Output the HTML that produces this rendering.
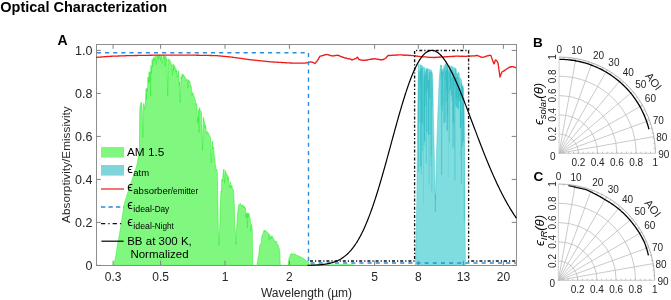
<!DOCTYPE html><html><head><meta charset="utf-8"><style>html,body{margin:0;padding:0;background:#fff;}svg{display:block;will-change:transform;}</style></head><body>
<svg width="671" height="300" viewBox="0 0 671 300" font-family="Liberation Sans, sans-serif">
<rect width="671" height="300" fill="#fff"/>
<text x="0.3" y="11.7" font-size="14.5" font-weight="bold" fill="#000">Optical Characterization</text>
<text x="57.5" y="44.5" font-size="14" font-weight="bold" fill="#000">A</text>
<path d="M113.6,265.4 L113.60,265.40 L113.75,264.83 L113.90,264.27 L114.05,263.70 L114.20,263.13 L114.35,262.57 L114.50,262.00 L114.65,261.30 L114.80,260.60 L114.95,259.90 L115.10,259.20 L115.25,258.50 L115.40,257.80 L115.55,257.10 L115.70,256.40 L115.85,255.70 L116.00,255.00 L116.15,253.93 L116.30,252.86 L116.45,251.79 L116.60,250.71 L116.75,249.64 L116.90,248.57 L117.05,247.50 L117.20,246.43 L117.35,245.36 L117.50,244.50 L117.65,243.75 L117.80,243.00 L117.95,242.25 L118.10,241.50 L118.25,240.75 L118.40,240.00 L118.55,239.25 L118.70,238.50 L118.85,237.75 L119.00,237.00 L119.15,236.25 L119.30,235.50 L119.45,234.69 L119.60,233.75 L119.75,232.81 L119.90,231.87 L120.05,230.94 L120.20,230.00 L120.35,229.06 L120.50,228.12 L120.65,227.19 L120.80,226.25 L120.95,225.31 L121.10,224.37 L121.25,223.44 L121.40,222.50 L121.55,221.56 L121.70,220.62 L121.85,219.69 L122.00,218.75 L122.15,217.81 L122.30,216.87 L122.45,215.94 L122.60,215.00 L122.75,213.93 L122.90,212.86 L123.05,211.79 L123.20,210.71 L123.35,209.64 L123.50,208.57 L123.65,207.50 L123.80,206.43 L123.95,205.36 L124.10,204.67 L124.25,204.17 L124.40,203.67 L124.55,203.17 L124.70,202.67 L124.85,202.17 L125.00,201.67 L125.15,201.17 L125.30,200.67 L125.45,200.17 L125.60,199.67 L125.75,199.17 L125.90,198.67 L126.05,198.17 L126.20,197.67 L126.35,197.17 L126.50,196.67 L126.65,196.17 L126.80,195.67 L126.95,195.17 L127.10,194.70 L127.25,194.25 L127.40,193.80 L127.55,193.35 L127.70,192.90 L127.85,192.45 L128.00,192.00 L128.15,191.55 L128.30,191.10 L128.45,190.65 L128.60,190.20 L128.75,189.75 L128.90,189.30 L129.05,188.85 L129.20,188.40 L129.35,187.95 L129.50,187.50 L129.65,187.05 L129.80,186.60 L129.95,186.15 L130.10,185.70 L130.25,185.25 L130.40,184.80 L130.55,184.35 L130.70,183.90 L130.85,183.45 L131.00,183.00 L131.15,182.55 L131.30,182.10 L131.45,181.65 L131.60,181.20 L131.75,180.75 L131.90,180.30 L132.05,179.85 L132.20,179.40 L132.35,178.95 L132.50,178.50 L132.65,178.05 L132.80,177.60 L132.95,177.15 L133.10,176.70 L133.25,176.25 L133.40,175.80 L133.55,175.35 L133.70,174.90 L133.85,174.45 L134.00,174.00 L134.15,173.55 L134.30,173.10 L134.45,172.65 L134.60,172.20 L134.75,171.75 L134.90,171.30 L135.05,170.85 L135.20,170.40 L135.35,169.95 L135.50,169.50 L135.65,169.05 L135.80,168.60 L135.95,168.15 L136.10,167.70 L136.25,167.25 L136.40,166.80 L136.55,166.35 L136.70,165.90 L136.85,165.45 L137.00,165.00 L137.15,164.06 L137.30,163.12 L137.45,162.19 L137.60,161.25 L137.75,160.31 L137.90,159.37 L138.05,158.44 L138.20,157.50 L138.35,156.56 L138.50,155.62 L138.65,154.69 L138.80,153.75 L138.95,152.81 L139.10,151.87 L139.25,150.94 L139.40,150.00 L139.55,135.00 L139.70,120.00 L139.85,109.57 L140.00,108.29 L140.15,107.00 L140.30,105.71 L140.45,104.43 L140.60,103.80 L140.75,103.50 L140.90,103.20 L141.05,102.90 L141.20,102.60 L141.35,102.30 L141.50,103.38 L141.65,104.78 L141.80,106.19 L141.95,105.89 L142.10,108.75 L142.25,115.45 L142.40,122.16 L142.55,128.87 L142.70,135.57 L142.85,137.36 L143.00,130.55 L143.15,123.74 L143.30,116.94 L143.45,110.13 L143.60,103.80 L143.75,103.41 L143.90,104.93 L144.05,105.31 L144.20,105.10 L144.35,106.56 L144.50,107.26 L144.65,107.96 L144.80,108.66 L144.95,109.36 L145.10,109.09 L145.25,106.03 L145.40,102.97 L145.55,99.91 L145.70,96.85 L145.85,93.79 L146.00,90.73 L146.15,88.80 L146.30,91.36 L146.45,95.46 L146.60,99.55 L146.75,98.94 L146.90,92.45 L147.05,87.89 L147.20,89.58 L147.35,91.27 L147.50,89.40 L147.65,85.31 L147.80,81.23 L147.95,77.14 L148.10,77.35 L148.25,79.10 L148.40,80.85 L148.55,82.60 L148.70,79.41 L148.85,75.86 L149.00,72.32 L149.15,71.70 L149.30,74.39 L149.45,77.08 L149.60,79.77 L149.75,82.46 L149.90,78.54 L150.05,74.30 L150.20,71.74 L150.35,83.96 L150.50,96.18 L150.65,88.59 L150.80,74.57 L150.95,65.55 L151.10,67.99 L151.25,70.69 L151.40,73.40 L151.55,70.90 L151.70,67.97 L151.85,65.04 L152.00,62.11 L152.15,59.18 L152.30,59.45 L152.45,61.97 L152.60,64.50 L152.75,67.02 L152.90,66.28 L153.05,63.56 L153.20,60.89 L153.35,58.23 L153.50,57.31 L153.65,58.56 L153.80,59.82 L153.95,61.08 L154.10,60.93 L154.25,59.62 L154.40,58.50 L154.55,60.45 L154.70,59.79 L154.85,57.80 L155.00,55.80 L155.15,55.14 L155.30,55.12 L155.45,55.09 L155.60,56.33 L155.75,58.41 L155.90,60.49 L156.05,62.58 L156.20,64.68 L156.35,63.80 L156.50,61.68 L156.65,59.57 L156.80,57.45 L156.95,55.33 L157.10,54.94 L157.25,55.94 L157.40,57.34 L157.55,58.74 L157.70,58.09 L157.85,56.68 L158.00,55.26 L158.15,54.89 L158.30,54.95 L158.45,56.71 L158.60,58.47 L158.75,59.22 L158.90,57.45 L159.05,55.67 L159.20,54.84 L159.35,54.83 L159.50,54.82 L159.65,54.82 L159.80,54.81 L159.95,54.80 L160.10,55.70 L160.25,57.33 L160.40,58.96 L160.55,60.58 L160.70,59.26 L160.85,57.67 L161.00,56.08 L161.15,54.95 L161.30,54.97 L161.45,55.60 L161.60,57.07 L161.75,58.53 L161.90,59.99 L162.05,61.46 L162.20,62.92 L162.35,63.15 L162.50,61.73 L162.65,60.30 L162.80,58.88 L162.95,57.46 L163.10,56.03 L163.25,55.24 L163.40,55.26 L163.55,55.28 L163.70,55.60 L163.85,56.87 L164.00,58.14 L164.15,58.73 L164.30,57.50 L164.45,56.36 L164.60,60.00 L164.75,63.63 L164.90,66.22 L165.05,62.69 L165.20,59.26 L165.35,55.94 L165.50,56.13 L165.65,56.31 L165.80,56.50 L165.95,56.69 L166.10,57.23 L166.25,58.10 L166.40,58.97 L166.55,59.84 L166.70,59.95 L166.85,59.45 L167.00,58.96 L167.15,65.15 L167.30,74.64 L167.45,84.12 L167.60,93.60 L167.75,95.74 L167.90,86.46 L168.05,77.17 L168.20,67.89 L168.35,58.90 L168.50,59.00 L168.65,59.23 L168.80,59.66 L168.95,60.09 L169.10,59.90 L169.25,59.66 L169.40,59.81 L169.55,59.98 L169.70,60.16 L169.85,60.34 L170.00,60.49 L170.15,60.64 L170.30,60.79 L170.45,60.94 L170.60,61.38 L170.75,62.21 L170.90,63.05 L171.05,63.88 L171.20,64.72 L171.35,65.55 L171.50,65.57 L171.65,65.19 L171.80,64.80 L171.95,66.08 L172.10,69.42 L172.25,72.74 L172.40,75.29 L172.55,72.27 L172.70,69.25 L172.85,66.23 L173.00,64.00 L173.15,64.15 L173.30,66.27 L173.45,68.53 L173.60,70.80 L173.75,69.07 L173.90,67.11 L174.05,65.19 L174.20,65.40 L174.35,65.70 L174.50,66.00 L174.65,66.30 L174.80,66.61 L174.95,66.91 L175.10,67.22 L175.25,67.52 L175.40,67.82 L175.55,68.12 L175.70,68.42 L175.85,69.77 L176.00,71.62 L176.15,72.59 L176.30,71.33 L176.45,70.07 L176.60,70.20 L176.75,71.18 L176.90,72.69 L177.05,74.08 L177.20,75.25 L177.35,76.41 L177.50,77.36 L177.65,76.12 L177.80,74.88 L177.95,73.64 L178.10,72.40 L178.25,71.62 L178.40,71.48 L178.55,71.11 L178.70,70.73 L178.85,74.11 L179.00,78.11 L179.15,82.26 L179.30,85.77 L179.45,81.84 L179.60,84.60 L179.75,89.60 L179.90,94.61 L180.05,99.61 L180.20,102.54 L180.35,97.76 L180.50,92.99 L180.65,88.21 L180.80,83.44 L180.95,78.66 L181.10,76.57 L181.25,77.96 L181.40,79.18 L181.55,78.09 L181.70,77.01 L181.85,75.92 L182.00,74.84 L182.15,73.75 L182.30,74.46 L182.45,75.42 L182.60,76.38 L182.75,76.83 L182.90,76.17 L183.05,75.53 L183.20,74.95 L183.35,74.53 L183.50,74.75 L183.65,74.98 L183.80,75.20 L183.95,75.55 L184.10,75.91 L184.25,76.27 L184.40,76.62 L184.55,76.88 L184.70,76.98 L184.85,77.07 L185.00,77.16 L185.15,77.18 L185.30,77.30 L185.45,77.45 L185.60,77.81 L185.75,78.46 L185.90,79.11 L186.05,79.76 L186.20,80.41 L186.35,80.90 L186.50,80.55 L186.65,80.20 L186.80,79.85 L186.95,79.50 L187.10,79.10 L187.25,79.13 L187.40,81.44 L187.55,83.98 L187.70,86.52 L187.85,88.41 L188.00,86.02 L188.15,83.62 L188.30,81.23 L188.45,79.91 L188.60,80.53 L188.75,81.15 L188.90,81.69 L189.05,81.29 L189.20,81.04 L189.35,80.79 L189.50,81.00 L189.65,81.30 L189.80,81.60 L189.95,82.01 L190.10,83.01 L190.25,84.02 L190.40,85.02 L190.55,86.03 L190.70,86.74 L190.85,86.34 L191.00,85.93 L191.15,86.43 L191.30,86.92 L191.45,89.07 L191.60,91.65 L191.75,94.23 L191.90,95.71 L192.05,95.18 L192.20,93.95 L192.35,92.71 L192.50,92.50 L192.65,92.65 L192.80,92.80 L192.95,92.97 L193.10,93.43 L193.25,93.98 L193.40,94.54 L193.55,95.10 L193.70,95.63 L193.85,95.98 L194.00,96.32 L194.15,96.66 L194.30,97.01 L194.45,97.41 L194.60,97.85 L194.75,98.29 L194.90,98.73 L195.05,99.17 L195.20,99.79 L195.35,100.72 L195.50,101.65 L195.65,102.59 L195.80,103.52 L195.95,104.45 L196.10,105.03 L196.25,104.63 L196.40,104.22 L196.55,103.81 L196.70,103.41 L196.85,104.43 L197.00,107.94 L197.15,111.44 L197.30,114.95 L197.45,118.46 L197.60,121.96 L197.75,123.53 L197.90,120.18 L198.05,116.89 L198.20,120.84 L198.35,120.98 L198.50,115.31 L198.65,109.65 L198.80,119.90 L198.95,130.51 L199.10,132.54 L199.25,122.98 L199.40,113.42 L199.55,107.75 L199.70,108.53 L199.85,109.30 L200.00,110.08 L200.15,110.25 L200.30,110.43 L200.45,110.60 L200.60,110.74 L200.75,110.86 L200.90,110.99 L201.05,111.21 L201.20,111.77 L201.35,112.33 L201.50,112.89 L201.65,116.31 L201.80,122.38 L201.95,128.46 L202.10,134.73 L202.25,141.10 L202.40,147.47 L202.55,150.37 L202.70,144.89 L202.85,139.42 L203.00,133.95 L203.15,128.63 L203.30,123.31 L203.45,117.98 L203.60,117.40 L203.75,118.37 L203.90,119.49 L204.05,120.56 L204.20,121.53 L204.35,121.47 L204.50,123.15 L204.65,125.65 L204.80,128.14 L204.95,128.16 L205.10,126.87 L205.25,125.73 L205.40,124.58 L205.55,125.30 L205.70,126.20 L205.85,127.76 L206.00,129.41 L206.15,130.61 L206.30,131.82 L206.45,133.02 L206.60,133.89 L206.75,133.59 L206.90,133.29 L207.05,132.89 L207.20,132.28 L207.35,131.68 L207.50,131.50 L207.65,131.77 L207.80,132.08 L207.95,132.40 L208.10,132.71 L208.25,133.02 L208.40,133.13 L208.55,133.20 L208.70,133.43 L208.85,133.67 L209.00,133.91 L209.15,134.39 L209.30,134.88 L209.45,135.37 L209.60,135.86 L209.75,136.24 L209.90,136.55 L210.05,136.81 L210.20,136.97 L210.35,137.12 L210.50,137.65 L210.65,142.65 L210.80,147.66 L210.95,152.67 L211.10,157.68 L211.25,162.69 L211.40,161.96 L211.55,157.51 L211.70,153.21 L211.85,148.90 L212.00,144.59 L212.15,140.95 L212.30,141.40 L212.45,141.85 L212.60,142.30 L212.75,144.10 L212.90,146.71 L213.05,148.84 L213.20,147.95 L213.35,147.07 L213.50,147.80 L213.65,149.30 L213.80,150.81 L213.95,152.32 L214.10,153.65 L214.25,154.88 L214.40,156.12 L214.55,156.99 L214.70,157.76 L214.85,158.73 L215.00,160.72 L215.15,162.71 L215.30,164.70 L215.45,166.69 L215.60,166.75 L215.75,166.51 L215.90,167.79 L216.05,169.54 L216.20,170.05 L216.35,169.81 L216.50,169.57 L216.65,169.51 L216.80,169.46 L216.95,169.81 L217.10,170.88 L217.25,172.46 L217.40,179.02 L217.55,188.07 L217.70,197.11 L217.85,205.67 L218.00,214.03 L218.15,222.38 L218.30,230.73 L218.45,233.73 L218.60,237.03 L218.75,240.10 L218.90,243.90 L219.05,245.14 L219.20,241.12 L219.35,236.02 L219.50,231.89 L219.65,229.37 L219.80,226.69 L219.95,220.21 L220.10,214.23 L220.25,208.82 L220.40,205.11 L220.55,201.36 L220.70,197.57 L220.85,193.79 L221.00,191.09 L221.15,191.48 L221.30,191.87 L221.45,190.79 L221.60,186.20 L221.75,181.62 L221.90,179.23 L222.05,179.02 L222.20,179.81 L222.35,180.60 L222.50,181.39 L222.65,179.67 L222.80,177.68 L222.95,175.69 L223.10,173.70 L223.25,172.57 L223.40,171.67 L223.55,170.77 L223.70,169.87 L223.85,168.97 L224.00,169.92 L224.15,173.31 L224.30,176.70 L224.45,180.09 L224.60,183.23 L224.75,180.44 L224.90,177.65 L225.05,174.86 L225.20,172.07 L225.35,170.70 L225.50,171.10 L225.65,171.76 L225.80,172.41 L225.95,173.07 L226.10,173.72 L226.25,173.92 L226.40,173.87 L226.55,173.82 L226.70,173.76 L226.85,173.71 L227.00,174.00 L227.15,174.30 L227.30,175.44 L227.45,177.61 L227.60,179.78 L227.75,180.75 L227.90,179.18 L228.05,177.64 L228.20,176.50 L228.35,177.12 L228.50,178.88 L228.65,180.65 L228.80,182.41 L228.95,184.17 L229.10,185.93 L229.25,187.70 L229.40,188.01 L229.55,187.00 L229.70,185.98 L229.85,184.97 L230.00,183.96 L230.15,182.91 L230.30,181.85 L230.45,182.01 L230.60,182.92 L230.75,184.47 L230.90,186.02 L231.05,187.57 L231.20,188.09 L231.35,187.21 L231.50,186.34 L231.65,185.46 L231.80,185.33 L231.95,186.05 L232.10,186.85 L232.25,187.68 L232.40,188.51 L232.55,189.27 L232.70,189.33 L232.85,189.40 L233.00,189.46 L233.15,189.53 L233.30,189.60 L233.45,190.05 L233.60,192.48 L233.75,195.38 L233.90,198.29 L234.05,201.11 L234.20,203.76 L234.35,210.36 L234.50,219.27 L234.65,225.37 L234.80,227.16 L234.95,228.96 L235.10,228.79 L235.25,230.31 L235.40,233.41 L235.55,236.50 L235.70,239.60 L235.85,242.69 L236.00,244.47 L236.15,240.77 L236.30,237.08 L236.45,233.38 L236.60,229.69 L236.75,226.00 L236.90,223.23 L237.05,220.59 L237.20,217.94 L237.35,215.29 L237.50,212.65 L237.65,212.58 L237.80,211.41 L237.95,210.24 L238.10,209.07 L238.25,207.91 L238.40,206.74 L238.55,205.80 L238.70,205.27 L238.85,204.86 L239.00,204.46 L239.15,204.50 L239.30,204.55 L239.45,204.59 L239.60,204.47 L239.75,204.13 L239.90,203.78 L240.05,203.52 L240.20,203.42 L240.35,203.33 L240.50,203.65 L240.65,204.02 L240.80,204.40 L240.95,204.78 L241.10,205.16 L241.25,205.54 L241.40,205.63 L241.55,205.45 L241.70,205.28 L241.85,205.65 L242.00,206.10 L242.15,205.78 L242.30,205.46 L242.45,205.13 L242.60,204.81 L242.75,204.83 L242.90,204.93 L243.05,205.07 L243.20,206.03 L243.35,206.98 L243.50,207.94 L243.65,207.70 L243.80,207.07 L243.95,206.44 L244.10,206.18 L244.25,206.34 L244.40,206.51 L244.55,206.67 L244.70,206.83 L244.85,207.36 L245.00,208.05 L245.15,208.49 L245.30,208.12 L245.45,208.23 L245.60,210.54 L245.75,212.86 L245.90,215.17 L246.05,217.48 L246.20,215.61 L246.35,213.62 L246.50,215.82 L246.65,217.73 L246.80,215.65 L246.95,213.57 L247.10,213.11 L247.25,220.32 L247.40,227.52 L247.55,225.71 L247.70,219.16 L247.85,212.66 L248.00,214.84 L248.15,217.03 L248.30,216.70 L248.45,215.18 L248.60,213.66 L248.75,213.15 L248.90,213.48 L249.05,213.88 L249.20,214.76 L249.35,215.81 L249.50,216.86 L249.65,217.82 L249.80,217.86 L249.95,217.91 L250.10,217.95 L250.25,218.26 L250.40,221.51 L250.55,224.78 L250.70,228.06 L250.85,231.33 L251.00,229.48 L251.15,227.79 L251.30,226.10 L251.45,224.41 L251.60,225.15 L251.75,226.19 L251.90,227.23 L252.05,228.37 L252.20,230.08 L252.35,235.87 L252.50,249.51 L252.65,262.12 L252.80,265.40 L252.95,265.40 L253.10,265.40 L253.25,265.40 L253.40,265.40 L253.55,265.40 L253.70,265.40 L253.85,265.40 L254.00,265.40 L254.15,265.40 L254.30,265.40 L254.45,265.40 L254.60,265.40 L254.75,265.40 L254.90,265.40 L255.05,265.40 L255.20,265.40 L255.35,265.40 L255.50,265.40 L255.65,265.40 L255.80,265.40 L255.95,265.40 L256.10,265.40 L256.25,265.40 L256.40,265.40 L256.55,265.40 L256.70,265.40 L256.85,265.40 L257.00,265.40 L257.15,264.46 L257.30,263.48 L257.45,262.50 L257.60,261.51 L257.75,260.27 L257.90,258.94 L258.05,257.62 L258.20,256.73 L258.35,256.38 L258.50,256.02 L258.65,255.67 L258.80,255.32 L258.95,253.72 L259.10,252.03 L259.25,250.48 L259.40,248.93 L259.55,247.69 L259.70,246.86 L259.85,246.03 L260.00,245.19 L260.15,244.36 L260.30,244.19 L260.45,244.33 L260.60,244.46 L260.75,244.59 L260.90,244.72 L261.05,244.21 L261.20,242.73 L261.35,241.25 L261.50,239.77 L261.65,238.29 L261.80,236.81 L261.95,236.20 L262.10,235.60 L262.25,235.23 L262.40,234.92 L262.55,234.61 L262.70,234.24 L262.85,233.50 L263.00,233.25 L263.15,233.01 L263.30,232.76 L263.45,232.35 L263.60,231.40 L263.75,231.09 L263.90,230.78 L264.05,230.47 L264.20,230.16 L264.35,230.00 L264.50,230.61 L264.65,231.23 L264.80,231.47 L264.95,230.94 L265.10,230.48 L265.25,230.24 L265.40,230.48 L265.55,230.73 L265.70,230.98 L265.85,231.23 L266.00,231.44 L266.15,231.47 L266.30,231.50 L266.45,231.53 L266.60,231.56 L266.75,231.63 L266.90,231.82 L267.05,232.02 L267.20,232.22 L267.35,232.42 L267.50,232.62 L267.65,232.78 L267.80,232.86 L267.95,232.94 L268.10,233.00 L268.25,233.06 L268.40,233.37 L268.55,235.17 L268.70,236.97 L268.85,238.77 L269.00,240.52 L269.15,238.96 L269.30,237.40 L269.45,235.84 L269.60,234.28 L269.75,234.54 L269.90,235.39 L270.05,236.25 L270.20,237.11 L270.35,237.96 L270.50,238.49 L270.65,237.88 L270.80,237.26 L270.95,236.64 L271.10,237.25 L271.25,238.64 L271.40,237.65 L271.55,236.50 L271.70,235.76 L271.85,235.88 L272.00,236.00 L272.15,236.18 L272.30,236.37 L272.45,236.55 L272.60,236.74 L272.75,236.93 L272.90,237.10 L273.05,237.31 L273.20,237.78 L273.35,238.24 L273.50,238.71 L273.65,239.18 L273.80,239.65 L273.95,239.74 L274.10,240.20 L274.25,240.81 L274.40,241.42 L274.55,241.57 L274.70,241.32 L274.85,241.16 L275.00,241.83 L275.15,241.68 L275.30,241.37 L275.45,241.06 L275.60,241.08 L275.75,241.11 L275.90,241.03 L276.05,240.99 L276.20,241.17 L276.35,241.45 L276.50,241.73 L276.65,242.08 L276.80,242.44 L276.95,242.80 L277.10,243.16 L277.25,243.52 L277.40,243.84 L277.55,244.04 L277.70,244.24 L277.85,244.44 L278.00,244.64 L278.15,244.84 L278.30,245.34 L278.45,245.98 L278.60,246.63 L278.75,247.27 L278.90,247.66 L279.05,247.84 L279.20,248.53 L279.35,249.22 L279.50,249.91 L279.65,250.95 L279.80,252.00 L279.95,257.03 L280.10,262.05 L280.25,265.40 L280.40,265.40 L280.55,265.40 L280.70,265.40 L280.85,265.40 L281.00,265.40 L281.15,265.40 L281.30,265.40 L281.45,265.40 L281.60,265.40 L281.75,265.40 L281.90,265.40 L282.05,265.40 L282.20,265.40 L282.35,265.40 L282.50,265.40 L282.65,265.40 L282.80,265.40 L282.95,265.40 L283.10,265.40 L283.25,265.40 L283.40,265.40 L283.55,265.40 L283.70,265.40 L283.85,265.40 L284.00,265.40 L284.15,265.40 L284.30,265.40 L284.45,265.40 L284.60,265.40 L284.75,265.40 L284.90,265.40 L285.05,265.40 L285.20,265.40 L285.35,265.40 L285.50,265.40 L285.65,265.40 L285.80,265.40 L285.95,265.40 L286.10,265.40 L286.25,265.40 L286.40,265.40 L286.55,265.40 L286.70,265.40 L286.85,265.40 L287.00,265.40 L287.15,265.40 L287.30,265.40 L287.45,265.40 L287.60,265.40 L287.75,265.40 L287.90,265.40 L288.05,265.40 L288.20,265.40 L288.35,264.01 L288.50,262.62 L288.65,261.24 L288.80,259.85 L288.95,258.57 L289.10,257.97 L289.25,257.70 L289.40,257.42 L289.55,257.15 L289.70,256.81 L289.85,256.28 L290.00,255.76 L290.15,255.23 L290.30,254.70 L290.45,254.18 L290.60,254.00 L290.75,253.93 L290.90,253.84 L291.05,253.71 L291.20,253.58 L291.35,253.46 L291.50,253.33 L291.65,253.23 L291.80,253.22 L291.95,253.32 L292.10,253.52 L292.25,253.76 L292.40,254.00 L292.55,254.23 L292.70,254.06 L292.85,254.00 L293.00,254.28 L293.15,254.38 L293.30,254.18 L293.45,253.97 L293.60,253.76 L293.75,253.55 L293.90,253.70 L294.05,253.88 L294.20,254.09 L294.35,254.29 L294.50,254.28 L294.65,254.22 L294.80,254.17 L294.95,254.11 L295.10,254.10 L295.25,254.21 L295.40,254.33 L295.55,254.40 L295.70,254.43 L295.85,254.47 L296.00,254.74 L296.15,255.04 L296.30,255.34 L296.45,255.65 L296.60,255.85 L296.75,255.70 L296.90,255.55 L297.05,255.40 L297.20,255.24 L297.35,255.18 L297.50,255.25 L297.65,255.33 L297.80,255.40 L297.95,255.54 L298.10,255.73 L298.25,255.92 L298.40,256.10 L298.55,256.06 L298.70,256.02 L298.85,255.98 L299.00,256.00 L299.15,256.08 L299.30,256.15 L299.45,256.23 L299.60,256.30 L299.75,256.42 L299.90,256.99 L300.05,257.56 L300.20,257.69 L300.35,257.27 L300.50,256.85 L300.65,256.83 L300.80,256.90 L300.95,256.98 L301.10,257.05 L301.25,257.13 L301.40,257.21 L301.55,257.35 L301.70,257.49 L301.85,257.63 L302.00,257.64 L302.15,257.65 L302.30,257.67 L302.45,257.88 L302.60,258.10 L302.75,258.31 L302.90,258.52 L303.05,258.53 L303.20,258.48 L303.35,258.43 L303.50,258.38 L303.65,258.39 L303.80,258.48 L303.95,258.68 L304.10,258.89 L304.25,259.09 L304.40,259.30 L304.55,259.44 L304.70,259.42 L304.85,259.39 L305.00,259.43 L305.15,259.58 L305.30,259.72 L305.45,259.76 L305.60,260.05 L305.75,260.34 L305.90,260.56 L306.05,260.60 L306.20,261.01 L306.35,261.42 L306.50,261.66 L306.65,261.43 L306.80,261.19 L306.95,260.96 L307.10,260.73 L307.25,260.79 L307.40,260.96 L307.55,261.06 L307.70,261.07 L307.85,261.08 L308.00,261.08 L308.15,261.44 L308.30,261.88 L308.45,262.32 L308.60,262.76 L308.75,263.20 L308.90,263.64 L309.05,264.08 L309.20,264.52 L309.35,264.96 L309.50,265.40 L309.5,265.4 Z" fill="#80F880" stroke="#2BEA2B" stroke-width="0.55" stroke-linejoin="round"/>
<defs><clipPath id="cclip"><path d="M415.4,265.4 L415.40,265.40 L415.52,260.09 L415.64,254.78 L415.76,249.47 L415.88,244.16 L416.00,238.85 L416.12,233.54 L416.24,228.00 L416.36,222.00 L416.48,216.00 L416.60,210.00 L416.72,204.00 L416.84,196.00 L416.96,184.00 L417.08,172.00 L417.20,160.00 L417.32,148.00 L417.44,136.00 L417.56,125.20 L417.68,115.60 L417.80,106.00 L417.92,96.40 L418.04,87.45 L418.16,79.80 L418.28,72.15 L418.40,64.50 L418.52,64.48 L418.64,64.45 L418.76,64.43 L418.88,64.41 L419.00,64.39 L419.12,64.36 L419.24,66.42 L419.36,68.49 L419.48,70.56 L419.60,72.63 L419.72,74.70 L419.84,75.54 L419.96,73.43 L420.08,71.38 L420.20,69.36 L420.32,67.35 L420.44,65.33 L420.56,64.69 L420.68,64.80 L420.80,64.91 L420.92,65.03 L421.04,65.14 L421.16,65.21 L421.28,65.26 L421.40,65.30 L421.52,65.34 L421.64,65.39 L421.76,65.43 L421.88,65.47 L422.00,65.52 L422.12,65.58 L422.24,65.66 L422.36,65.74 L422.48,66.40 L422.60,67.05 L422.72,67.71 L422.84,68.37 L422.96,69.03 L423.08,69.43 L423.20,68.94 L423.32,68.44 L423.44,67.94 L423.56,67.44 L423.68,66.94 L423.80,66.70 L423.92,66.78 L424.04,66.86 L424.16,66.94 L424.28,67.85 L424.40,69.40 L424.52,70.95 L424.64,72.50 L424.76,74.04 L424.88,75.59 L425.00,77.14 L425.12,78.30 L425.24,76.88 L425.36,75.45 L425.48,74.02 L425.60,72.59 L425.72,71.16 L425.84,69.74 L425.96,68.31 L426.08,67.86 L426.20,67.90 L426.32,68.18 L426.44,68.55 L426.56,68.91 L426.68,69.28 L426.80,69.64 L426.92,70.01 L427.04,69.82 L427.16,69.53 L427.28,69.25 L427.40,68.96 L427.52,68.67 L427.64,68.39 L427.76,68.92 L427.88,69.46 L428.00,69.99 L428.12,70.55 L428.24,70.96 L428.36,70.52 L428.48,70.09 L428.60,69.66 L428.72,69.22 L428.84,68.92 L428.96,68.98 L429.08,69.04 L429.20,69.10 L429.32,69.27 L429.44,69.44 L429.56,69.60 L429.68,69.77 L429.80,69.91 L429.92,69.86 L430.04,69.82 L430.16,69.77 L430.28,69.72 L430.40,69.70 L430.52,69.98 L430.64,70.34 L430.76,70.69 L430.88,71.04 L431.00,71.13 L431.12,70.93 L431.24,70.73 L431.36,70.52 L431.48,70.37 L431.60,70.46 L431.72,71.12 L431.84,71.84 L431.96,72.56 L432.08,73.28 L432.20,73.17 L432.32,72.98 L432.44,74.51 L432.56,76.05 L432.68,77.84 L432.80,80.00 L432.92,87.20 L433.04,94.40 L433.16,101.60 L433.28,108.80 L433.40,114.44 L433.52,119.78 L433.64,125.11 L433.76,130.44 L433.88,135.78 L434.00,141.11 L434.12,146.44 L434.24,151.75 L434.36,157.00 L434.48,162.25 L434.60,167.50 L434.72,172.75 L434.84,178.00 L434.96,183.25 L435.08,188.00 L435.20,192.50 L435.32,197.00 L435.44,198.50 L435.56,194.00 L435.68,189.50 L435.80,185.00 L435.92,179.75 L436.04,174.50 L436.16,169.25 L436.28,164.00 L436.40,158.75 L436.52,153.50 L436.64,148.86 L436.76,145.43 L436.88,142.00 L437.00,138.57 L437.12,135.14 L437.24,131.71 L437.36,128.29 L437.48,124.86 L437.60,121.43 L437.72,118.00 L437.84,114.57 L437.96,111.14 L438.08,108.00 L438.20,105.00 L438.32,102.00 L438.44,99.00 L438.56,96.00 L438.68,93.00 L438.80,90.00 L438.92,87.00 L439.04,84.35 L439.16,82.40 L439.28,80.45 L439.40,78.50 L439.52,76.55 L439.64,74.60 L439.76,72.65 L439.88,71.20 L440.00,70.00 L440.12,68.80 L440.24,67.60 L440.36,66.70 L440.48,65.84 L440.60,64.99 L440.72,65.21 L440.84,65.43 L440.96,65.65 L441.08,65.87 L441.20,66.08 L441.32,65.88 L441.44,65.41 L441.56,64.93 L441.68,65.69 L441.80,67.35 L441.92,69.00 L442.04,70.71 L442.16,72.53 L442.28,74.36 L442.40,75.86 L442.52,74.12 L442.64,72.39 L442.76,70.65 L442.88,68.91 L443.00,69.65 L443.12,71.05 L443.24,72.45 L443.36,73.85 L443.48,72.61 L443.60,71.30 L443.72,69.99 L443.84,68.68 L443.96,67.37 L444.08,66.06 L444.20,65.43 L444.32,66.84 L444.44,68.25 L444.56,69.66 L444.68,68.88 L444.80,67.56 L444.92,66.24 L445.04,64.92 L445.16,63.71 L445.28,63.77 L445.40,63.83 L445.52,63.89 L445.64,63.95 L445.76,64.01 L445.88,64.06 L446.00,64.11 L446.12,64.14 L446.24,64.18 L446.36,64.21 L446.48,64.24 L446.60,64.27 L446.72,64.30 L446.84,64.33 L446.96,64.37 L447.08,64.41 L447.20,64.45 L447.32,64.50 L447.44,64.59 L447.56,65.78 L447.68,66.96 L447.80,68.14 L447.92,69.32 L448.04,70.50 L448.16,71.69 L448.28,72.87 L448.40,72.94 L448.52,71.85 L448.64,70.76 L448.76,69.66 L448.88,68.57 L449.00,67.48 L449.12,66.39 L449.24,65.29 L449.36,65.26 L449.48,66.46 L449.60,68.14 L449.72,69.82 L449.84,71.49 L449.96,73.17 L450.08,74.85 L450.20,73.71 L450.32,72.13 L450.44,70.54 L450.56,68.95 L450.68,67.36 L450.80,65.80 L450.92,65.87 L451.04,65.95 L451.16,66.03 L451.28,66.11 L451.40,66.19 L451.52,66.27 L451.64,66.35 L451.76,66.43 L451.88,66.44 L452.00,66.45 L452.12,66.46 L452.24,66.47 L452.36,66.48 L452.48,66.49 L452.60,66.50 L452.72,67.20 L452.84,69.73 L452.96,72.27 L453.08,74.80 L453.20,77.33 L453.32,78.92 L453.44,76.48 L453.56,74.04 L453.68,71.60 L453.80,69.16 L453.92,66.97 L454.04,67.13 L454.16,67.45 L454.28,67.77 L454.40,68.09 L454.52,68.41 L454.64,68.74 L454.76,68.66 L454.88,68.54 L455.00,68.42 L455.12,68.30 L455.24,68.18 L455.36,68.13 L455.48,68.23 L455.60,68.33 L455.72,68.43 L455.84,68.53 L455.96,68.63 L456.08,68.73 L456.20,69.41 L456.32,71.20 L456.44,72.99 L456.56,74.79 L456.68,76.58 L456.80,78.38 L456.92,79.64 L457.04,78.08 L457.16,76.60 L457.28,75.12 L457.40,73.63 L457.52,72.88 L457.64,74.09 L457.76,75.29 L457.88,75.27 L458.00,74.49 L458.12,73.70 L458.24,72.92 L458.36,72.14 L458.48,72.09 L458.60,72.30 L458.72,72.51 L458.84,72.72 L458.96,72.93 L459.08,73.24 L459.20,73.60 L459.32,76.22 L459.44,80.20 L459.56,84.18 L459.68,88.15 L459.80,92.13 L459.92,95.22 L460.04,91.97 L460.16,88.71 L460.28,85.46 L460.40,82.20 L460.52,78.94 L460.64,77.92 L460.76,78.28 L460.88,78.64 L461.00,79.00 L461.12,79.36 L461.24,79.72 L461.36,80.08 L461.48,80.44 L461.60,80.80 L461.72,81.97 L461.84,83.50 L461.96,85.03 L462.08,86.64 L462.20,88.29 L462.32,87.88 L462.44,87.19 L462.56,86.50 L462.68,85.81 L462.80,85.20 L462.92,85.68 L463.04,86.16 L463.16,86.64 L463.28,87.12 L463.40,87.60 L463.52,88.63 L463.64,92.40 L463.76,96.17 L463.88,100.09 L464.00,104.12 L464.12,108.16 L464.24,115.95 L464.36,131.11 L464.48,145.84 L464.60,160.57 L464.72,178.31 L464.84,196.04 L464.96,214.00 L465.08,227.26 L465.20,239.73 L465.32,252.56 L465.44,265.39 L465.5,265.4 Z"/></clipPath></defs>
<path d="M415.4,265.4 L415.40,265.40 L415.52,260.09 L415.64,254.78 L415.76,249.47 L415.88,244.16 L416.00,238.85 L416.12,233.54 L416.24,228.00 L416.36,222.00 L416.48,216.00 L416.60,210.00 L416.72,204.00 L416.84,196.00 L416.96,184.00 L417.08,172.00 L417.20,160.00 L417.32,148.00 L417.44,136.00 L417.56,125.20 L417.68,115.60 L417.80,106.00 L417.92,96.40 L418.04,87.45 L418.16,79.80 L418.28,72.15 L418.40,64.50 L418.52,64.48 L418.64,64.45 L418.76,64.43 L418.88,64.41 L419.00,64.39 L419.12,64.36 L419.24,66.42 L419.36,68.49 L419.48,70.56 L419.60,72.63 L419.72,74.70 L419.84,75.54 L419.96,73.43 L420.08,71.38 L420.20,69.36 L420.32,67.35 L420.44,65.33 L420.56,64.69 L420.68,64.80 L420.80,64.91 L420.92,65.03 L421.04,65.14 L421.16,65.21 L421.28,65.26 L421.40,65.30 L421.52,65.34 L421.64,65.39 L421.76,65.43 L421.88,65.47 L422.00,65.52 L422.12,65.58 L422.24,65.66 L422.36,65.74 L422.48,66.40 L422.60,67.05 L422.72,67.71 L422.84,68.37 L422.96,69.03 L423.08,69.43 L423.20,68.94 L423.32,68.44 L423.44,67.94 L423.56,67.44 L423.68,66.94 L423.80,66.70 L423.92,66.78 L424.04,66.86 L424.16,66.94 L424.28,67.85 L424.40,69.40 L424.52,70.95 L424.64,72.50 L424.76,74.04 L424.88,75.59 L425.00,77.14 L425.12,78.30 L425.24,76.88 L425.36,75.45 L425.48,74.02 L425.60,72.59 L425.72,71.16 L425.84,69.74 L425.96,68.31 L426.08,67.86 L426.20,67.90 L426.32,68.18 L426.44,68.55 L426.56,68.91 L426.68,69.28 L426.80,69.64 L426.92,70.01 L427.04,69.82 L427.16,69.53 L427.28,69.25 L427.40,68.96 L427.52,68.67 L427.64,68.39 L427.76,68.92 L427.88,69.46 L428.00,69.99 L428.12,70.55 L428.24,70.96 L428.36,70.52 L428.48,70.09 L428.60,69.66 L428.72,69.22 L428.84,68.92 L428.96,68.98 L429.08,69.04 L429.20,69.10 L429.32,69.27 L429.44,69.44 L429.56,69.60 L429.68,69.77 L429.80,69.91 L429.92,69.86 L430.04,69.82 L430.16,69.77 L430.28,69.72 L430.40,69.70 L430.52,69.98 L430.64,70.34 L430.76,70.69 L430.88,71.04 L431.00,71.13 L431.12,70.93 L431.24,70.73 L431.36,70.52 L431.48,70.37 L431.60,70.46 L431.72,71.12 L431.84,71.84 L431.96,72.56 L432.08,73.28 L432.20,73.17 L432.32,72.98 L432.44,74.51 L432.56,76.05 L432.68,77.84 L432.80,80.00 L432.92,87.20 L433.04,94.40 L433.16,101.60 L433.28,108.80 L433.40,114.44 L433.52,119.78 L433.64,125.11 L433.76,130.44 L433.88,135.78 L434.00,141.11 L434.12,146.44 L434.24,151.75 L434.36,157.00 L434.48,162.25 L434.60,167.50 L434.72,172.75 L434.84,178.00 L434.96,183.25 L435.08,188.00 L435.20,192.50 L435.32,197.00 L435.44,198.50 L435.56,194.00 L435.68,189.50 L435.80,185.00 L435.92,179.75 L436.04,174.50 L436.16,169.25 L436.28,164.00 L436.40,158.75 L436.52,153.50 L436.64,148.86 L436.76,145.43 L436.88,142.00 L437.00,138.57 L437.12,135.14 L437.24,131.71 L437.36,128.29 L437.48,124.86 L437.60,121.43 L437.72,118.00 L437.84,114.57 L437.96,111.14 L438.08,108.00 L438.20,105.00 L438.32,102.00 L438.44,99.00 L438.56,96.00 L438.68,93.00 L438.80,90.00 L438.92,87.00 L439.04,84.35 L439.16,82.40 L439.28,80.45 L439.40,78.50 L439.52,76.55 L439.64,74.60 L439.76,72.65 L439.88,71.20 L440.00,70.00 L440.12,68.80 L440.24,67.60 L440.36,66.70 L440.48,65.84 L440.60,64.99 L440.72,65.21 L440.84,65.43 L440.96,65.65 L441.08,65.87 L441.20,66.08 L441.32,65.88 L441.44,65.41 L441.56,64.93 L441.68,65.69 L441.80,67.35 L441.92,69.00 L442.04,70.71 L442.16,72.53 L442.28,74.36 L442.40,75.86 L442.52,74.12 L442.64,72.39 L442.76,70.65 L442.88,68.91 L443.00,69.65 L443.12,71.05 L443.24,72.45 L443.36,73.85 L443.48,72.61 L443.60,71.30 L443.72,69.99 L443.84,68.68 L443.96,67.37 L444.08,66.06 L444.20,65.43 L444.32,66.84 L444.44,68.25 L444.56,69.66 L444.68,68.88 L444.80,67.56 L444.92,66.24 L445.04,64.92 L445.16,63.71 L445.28,63.77 L445.40,63.83 L445.52,63.89 L445.64,63.95 L445.76,64.01 L445.88,64.06 L446.00,64.11 L446.12,64.14 L446.24,64.18 L446.36,64.21 L446.48,64.24 L446.60,64.27 L446.72,64.30 L446.84,64.33 L446.96,64.37 L447.08,64.41 L447.20,64.45 L447.32,64.50 L447.44,64.59 L447.56,65.78 L447.68,66.96 L447.80,68.14 L447.92,69.32 L448.04,70.50 L448.16,71.69 L448.28,72.87 L448.40,72.94 L448.52,71.85 L448.64,70.76 L448.76,69.66 L448.88,68.57 L449.00,67.48 L449.12,66.39 L449.24,65.29 L449.36,65.26 L449.48,66.46 L449.60,68.14 L449.72,69.82 L449.84,71.49 L449.96,73.17 L450.08,74.85 L450.20,73.71 L450.32,72.13 L450.44,70.54 L450.56,68.95 L450.68,67.36 L450.80,65.80 L450.92,65.87 L451.04,65.95 L451.16,66.03 L451.28,66.11 L451.40,66.19 L451.52,66.27 L451.64,66.35 L451.76,66.43 L451.88,66.44 L452.00,66.45 L452.12,66.46 L452.24,66.47 L452.36,66.48 L452.48,66.49 L452.60,66.50 L452.72,67.20 L452.84,69.73 L452.96,72.27 L453.08,74.80 L453.20,77.33 L453.32,78.92 L453.44,76.48 L453.56,74.04 L453.68,71.60 L453.80,69.16 L453.92,66.97 L454.04,67.13 L454.16,67.45 L454.28,67.77 L454.40,68.09 L454.52,68.41 L454.64,68.74 L454.76,68.66 L454.88,68.54 L455.00,68.42 L455.12,68.30 L455.24,68.18 L455.36,68.13 L455.48,68.23 L455.60,68.33 L455.72,68.43 L455.84,68.53 L455.96,68.63 L456.08,68.73 L456.20,69.41 L456.32,71.20 L456.44,72.99 L456.56,74.79 L456.68,76.58 L456.80,78.38 L456.92,79.64 L457.04,78.08 L457.16,76.60 L457.28,75.12 L457.40,73.63 L457.52,72.88 L457.64,74.09 L457.76,75.29 L457.88,75.27 L458.00,74.49 L458.12,73.70 L458.24,72.92 L458.36,72.14 L458.48,72.09 L458.60,72.30 L458.72,72.51 L458.84,72.72 L458.96,72.93 L459.08,73.24 L459.20,73.60 L459.32,76.22 L459.44,80.20 L459.56,84.18 L459.68,88.15 L459.80,92.13 L459.92,95.22 L460.04,91.97 L460.16,88.71 L460.28,85.46 L460.40,82.20 L460.52,78.94 L460.64,77.92 L460.76,78.28 L460.88,78.64 L461.00,79.00 L461.12,79.36 L461.24,79.72 L461.36,80.08 L461.48,80.44 L461.60,80.80 L461.72,81.97 L461.84,83.50 L461.96,85.03 L462.08,86.64 L462.20,88.29 L462.32,87.88 L462.44,87.19 L462.56,86.50 L462.68,85.81 L462.80,85.20 L462.92,85.68 L463.04,86.16 L463.16,86.64 L463.28,87.12 L463.40,87.60 L463.52,88.63 L463.64,92.40 L463.76,96.17 L463.88,100.09 L464.00,104.12 L464.12,108.16 L464.24,115.95 L464.36,131.11 L464.48,145.84 L464.60,160.57 L464.72,178.31 L464.84,196.04 L464.96,214.00 L465.08,227.26 L465.20,239.73 L465.32,252.56 L465.44,265.39 L465.5,265.4 Z" fill="#80DDDF" stroke="#2ABAC2" stroke-width="0.4"/>
<g clip-path="url(#cclip)"><line x1="418.60" y1="70.9" x2="418.60" y2="172.0" stroke="#1CB4BC" stroke-opacity="0.59" stroke-width="0.94"/><line x1="419.15" y1="75.3" x2="419.15" y2="122.1" stroke="#1CB4BC" stroke-opacity="0.39" stroke-width="0.94"/><line x1="419.70" y1="72.4" x2="419.70" y2="100.9" stroke="#1CB4BC" stroke-opacity="0.40" stroke-width="0.66"/><line x1="420.25" y1="64.9" x2="420.25" y2="86.3" stroke="#1CB4BC" stroke-opacity="0.56" stroke-width="0.80"/><line x1="420.80" y1="69.1" x2="420.80" y2="166.4" stroke="#1CB4BC" stroke-opacity="0.69" stroke-width="1.02"/><line x1="421.35" y1="65.1" x2="421.35" y2="174.4" stroke="#1CB4BC" stroke-opacity="0.51" stroke-width="0.77"/><line x1="421.90" y1="68.3" x2="421.90" y2="123.3" stroke="#1CB4BC" stroke-opacity="0.73" stroke-width="0.85"/><line x1="422.45" y1="67.7" x2="422.45" y2="151.0" stroke="#1CB4BC" stroke-opacity="0.39" stroke-width="0.85"/><line x1="423.00" y1="71.0" x2="423.00" y2="124.8" stroke="#1CB4BC" stroke-opacity="0.48" stroke-width="0.66"/><line x1="423.55" y1="75.5" x2="423.55" y2="204.1" stroke="#1CB4BC" stroke-opacity="0.35" stroke-width="0.65"/><line x1="424.10" y1="79.2" x2="424.10" y2="145.8" stroke="#1CB4BC" stroke-opacity="0.71" stroke-width="0.54"/><line x1="424.65" y1="67.8" x2="424.65" y2="141.2" stroke="#1CB4BC" stroke-opacity="0.74" stroke-width="0.95"/><line x1="425.20" y1="67.9" x2="425.20" y2="106.4" stroke="#1CB4BC" stroke-opacity="0.51" stroke-width="0.90"/><line x1="425.75" y1="69.3" x2="425.75" y2="92.8" stroke="#1CB4BC" stroke-opacity="0.51" stroke-width="0.71"/><line x1="426.30" y1="69.7" x2="426.30" y2="163.8" stroke="#1CB4BC" stroke-opacity="0.64" stroke-width="0.74"/><line x1="426.85" y1="70.8" x2="426.85" y2="132.2" stroke="#1CB4BC" stroke-opacity="0.57" stroke-width="1.06"/><line x1="427.40" y1="68.7" x2="427.40" y2="87.7" stroke="#1CB4BC" stroke-opacity="0.71" stroke-width="0.56"/><line x1="427.95" y1="75.1" x2="427.95" y2="91.1" stroke="#1CB4BC" stroke-opacity="0.56" stroke-width="0.78"/><line x1="428.50" y1="79.9" x2="428.50" y2="135.0" stroke="#1CB4BC" stroke-opacity="0.65" stroke-width="1.04"/><line x1="429.05" y1="72.0" x2="429.05" y2="185.1" stroke="#1CB4BC" stroke-opacity="0.48" stroke-width="0.72"/><line x1="429.60" y1="71.6" x2="429.60" y2="98.2" stroke="#1CB4BC" stroke-opacity="0.64" stroke-width="0.84"/><line x1="430.15" y1="71.6" x2="430.15" y2="134.7" stroke="#1CB4BC" stroke-opacity="0.47" stroke-width="0.69"/><line x1="430.70" y1="71.8" x2="430.70" y2="165.9" stroke="#1CB4BC" stroke-opacity="0.32" stroke-width="0.74"/><line x1="431.25" y1="71.9" x2="431.25" y2="155.3" stroke="#1CB4BC" stroke-opacity="0.34" stroke-width="1.08"/><line x1="431.80" y1="71.2" x2="431.80" y2="192.4" stroke="#1CB4BC" stroke-opacity="0.73" stroke-width="0.53"/><line x1="432.35" y1="81.5" x2="432.35" y2="106.6" stroke="#1CB4BC" stroke-opacity="0.55" stroke-width="0.55"/><line x1="440.05" y1="70.1" x2="440.05" y2="81.0" stroke="#1CB4BC" stroke-opacity="0.62" stroke-width="0.51"/><line x1="440.60" y1="77.6" x2="440.60" y2="106.6" stroke="#1CB4BC" stroke-opacity="0.40" stroke-width="0.52"/><line x1="441.15" y1="63.8" x2="441.15" y2="78.5" stroke="#1CB4BC" stroke-opacity="0.34" stroke-width="0.98"/><line x1="441.70" y1="71.8" x2="441.70" y2="175.2" stroke="#1CB4BC" stroke-opacity="0.67" stroke-width="0.88"/><line x1="442.25" y1="65.8" x2="442.25" y2="110.9" stroke="#1CB4BC" stroke-opacity="0.65" stroke-width="0.77"/><line x1="442.80" y1="66.2" x2="442.80" y2="105.5" stroke="#1CB4BC" stroke-opacity="0.44" stroke-width="0.80"/><line x1="443.35" y1="63.0" x2="443.35" y2="123.1" stroke="#1CB4BC" stroke-opacity="0.44" stroke-width="0.67"/><line x1="443.90" y1="66.0" x2="443.90" y2="77.4" stroke="#1CB4BC" stroke-opacity="0.53" stroke-width="0.80"/><line x1="444.45" y1="76.9" x2="444.45" y2="123.0" stroke="#1CB4BC" stroke-opacity="0.58" stroke-width="0.94"/><line x1="445.00" y1="68.9" x2="445.00" y2="79.4" stroke="#1CB4BC" stroke-opacity="0.74" stroke-width="0.82"/><line x1="445.55" y1="71.5" x2="445.55" y2="121.7" stroke="#1CB4BC" stroke-opacity="0.47" stroke-width="0.80"/><line x1="446.10" y1="64.9" x2="446.10" y2="102.1" stroke="#1CB4BC" stroke-opacity="0.69" stroke-width="0.67"/><line x1="446.65" y1="70.4" x2="446.65" y2="90.4" stroke="#1CB4BC" stroke-opacity="0.66" stroke-width="0.83"/><line x1="447.20" y1="65.6" x2="447.20" y2="130.5" stroke="#1CB4BC" stroke-opacity="0.73" stroke-width="1.09"/><line x1="447.75" y1="67.3" x2="447.75" y2="115.4" stroke="#1CB4BC" stroke-opacity="0.58" stroke-width="0.81"/><line x1="448.30" y1="65.5" x2="448.30" y2="177.5" stroke="#1CB4BC" stroke-opacity="0.36" stroke-width="0.51"/><line x1="448.85" y1="65.9" x2="448.85" y2="93.4" stroke="#1CB4BC" stroke-opacity="0.60" stroke-width="0.67"/><line x1="449.40" y1="73.4" x2="449.40" y2="142.1" stroke="#1CB4BC" stroke-opacity="0.48" stroke-width="0.80"/><line x1="449.95" y1="68.1" x2="449.95" y2="82.2" stroke="#1CB4BC" stroke-opacity="0.73" stroke-width="0.51"/><line x1="450.50" y1="66.2" x2="450.50" y2="90.3" stroke="#1CB4BC" stroke-opacity="0.66" stroke-width="0.98"/><line x1="451.05" y1="67.6" x2="451.05" y2="96.5" stroke="#1CB4BC" stroke-opacity="0.53" stroke-width="0.57"/><line x1="451.60" y1="77.5" x2="451.60" y2="95.2" stroke="#1CB4BC" stroke-opacity="0.49" stroke-width="0.97"/><line x1="452.15" y1="76.3" x2="452.15" y2="101.8" stroke="#1CB4BC" stroke-opacity="0.43" stroke-width="1.05"/><line x1="452.70" y1="67.5" x2="452.70" y2="148.7" stroke="#1CB4BC" stroke-opacity="0.57" stroke-width="0.54"/><line x1="453.25" y1="68.2" x2="453.25" y2="122.9" stroke="#1CB4BC" stroke-opacity="0.67" stroke-width="1.06"/><line x1="453.80" y1="67.9" x2="453.80" y2="146.3" stroke="#1CB4BC" stroke-opacity="0.59" stroke-width="0.68"/><line x1="454.35" y1="73.5" x2="454.35" y2="86.0" stroke="#1CB4BC" stroke-opacity="0.37" stroke-width="0.81"/><line x1="454.90" y1="76.8" x2="454.90" y2="180.5" stroke="#1CB4BC" stroke-opacity="0.51" stroke-width="0.96"/><line x1="455.45" y1="68.5" x2="455.45" y2="105.1" stroke="#1CB4BC" stroke-opacity="0.62" stroke-width="0.62"/><line x1="456.00" y1="69.5" x2="456.00" y2="98.3" stroke="#1CB4BC" stroke-opacity="0.46" stroke-width="0.99"/><line x1="456.55" y1="77.8" x2="456.55" y2="107.4" stroke="#1CB4BC" stroke-opacity="0.70" stroke-width="0.86"/><line x1="457.10" y1="69.8" x2="457.10" y2="97.3" stroke="#1CB4BC" stroke-opacity="0.48" stroke-width="0.87"/><line x1="457.65" y1="73.3" x2="457.65" y2="107.7" stroke="#1CB4BC" stroke-opacity="0.36" stroke-width="1.00"/><line x1="458.20" y1="83.9" x2="458.20" y2="109.2" stroke="#1CB4BC" stroke-opacity="0.73" stroke-width="1.03"/><line x1="458.75" y1="77.0" x2="458.75" y2="101.4" stroke="#1CB4BC" stroke-opacity="0.48" stroke-width="0.88"/><line x1="459.30" y1="76.6" x2="459.30" y2="101.0" stroke="#1CB4BC" stroke-opacity="0.53" stroke-width="1.05"/><line x1="459.85" y1="76.7" x2="459.85" y2="96.3" stroke="#1CB4BC" stroke-opacity="0.34" stroke-width="0.93"/><line x1="460.40" y1="90.1" x2="460.40" y2="128.2" stroke="#1CB4BC" stroke-opacity="0.73" stroke-width="0.96"/><line x1="460.95" y1="89.6" x2="460.95" y2="158.2" stroke="#1CB4BC" stroke-opacity="0.46" stroke-width="0.56"/><line x1="461.50" y1="82.7" x2="461.50" y2="183.6" stroke="#1CB4BC" stroke-opacity="0.43" stroke-width="1.10"/><line x1="462.05" y1="84.9" x2="462.05" y2="98.7" stroke="#1CB4BC" stroke-opacity="0.70" stroke-width="0.86"/><line x1="462.60" y1="86.4" x2="462.60" y2="146.4" stroke="#1CB4BC" stroke-opacity="0.63" stroke-width="0.89"/><line x1="463.15" y1="88.4" x2="463.15" y2="125.4" stroke="#1CB4BC" stroke-opacity="0.72" stroke-width="0.60"/><line x1="463.70" y1="103.3" x2="463.70" y2="141.4" stroke="#1CB4BC" stroke-opacity="0.62" stroke-width="1.08"/><line x1="464.25" y1="116.3" x2="464.25" y2="220.9" stroke="#1CB4BC" stroke-opacity="0.61" stroke-width="0.74"/></g>
<line x1="435.4" y1="195" x2="435.2" y2="212" stroke="#1CB4BC" stroke-width="0.8" stroke-opacity="0.8"/>
<path d="M309,265.4 L312,264.6 L330,264.4 L345,264.2 L354,264.6 L356,265.4 Z" fill="#5BEF5B"/>
<rect x="96.5" y="44.5" width="420" height="221" fill="none" stroke="#8E8E8E" stroke-width="1"/>
<line x1="96.5" y1="50.4" x2="100.8" y2="50.4" stroke="#808080" stroke-width="1"/>
<line x1="516.5" y1="50.4" x2="511.7" y2="50.4" stroke="#808080" stroke-width="1"/>
<text x="92.4" y="55.0" font-size="12.5" fill="#262626" text-anchor="end">1.0</text>
<line x1="96.5" y1="93.4" x2="100.8" y2="93.4" stroke="#808080" stroke-width="1"/>
<line x1="516.5" y1="93.4" x2="511.7" y2="93.4" stroke="#808080" stroke-width="1"/>
<text x="92.4" y="98.0" font-size="12.5" fill="#262626" text-anchor="end">0.8</text>
<line x1="96.5" y1="136.4" x2="100.8" y2="136.4" stroke="#808080" stroke-width="1"/>
<line x1="516.5" y1="136.4" x2="511.7" y2="136.4" stroke="#808080" stroke-width="1"/>
<text x="92.4" y="141.0" font-size="12.5" fill="#262626" text-anchor="end">0.6</text>
<line x1="96.5" y1="179.4" x2="100.8" y2="179.4" stroke="#808080" stroke-width="1"/>
<line x1="516.5" y1="179.4" x2="511.7" y2="179.4" stroke="#808080" stroke-width="1"/>
<text x="92.4" y="184.0" font-size="12.5" fill="#262626" text-anchor="end">0.4</text>
<line x1="96.5" y1="222.4" x2="100.8" y2="222.4" stroke="#808080" stroke-width="1"/>
<line x1="516.5" y1="222.4" x2="511.7" y2="222.4" stroke="#808080" stroke-width="1"/>
<text x="92.4" y="227.0" font-size="12.5" fill="#262626" text-anchor="end">0.2</text>
<line x1="96.5" y1="265.4" x2="100.8" y2="265.4" stroke="#808080" stroke-width="1"/>
<line x1="516.5" y1="265.4" x2="511.7" y2="265.4" stroke="#808080" stroke-width="1"/>
<text x="92.4" y="270.0" font-size="12.5" fill="#262626" text-anchor="end">0</text>
<line x1="113.1" y1="44.5" x2="113.1" y2="48.8" stroke="#808080" stroke-width="1"/>
<line x1="113.1" y1="265" x2="113.1" y2="260.7" stroke="#808080" stroke-width="1"/>
<text x="113.1" y="280.6" font-size="12" fill="#262626" text-anchor="middle">0.3</text>
<line x1="160.6" y1="44.5" x2="160.6" y2="48.8" stroke="#808080" stroke-width="1"/>
<line x1="160.6" y1="265" x2="160.6" y2="260.7" stroke="#808080" stroke-width="1"/>
<text x="160.6" y="280.6" font-size="12" fill="#262626" text-anchor="middle">0.5</text>
<line x1="225.0" y1="44.5" x2="225.0" y2="48.8" stroke="#808080" stroke-width="1"/>
<line x1="225.0" y1="265" x2="225.0" y2="260.7" stroke="#808080" stroke-width="1"/>
<text x="225.0" y="280.6" font-size="12" fill="#262626" text-anchor="middle">1</text>
<line x1="289.4" y1="44.5" x2="289.4" y2="48.8" stroke="#808080" stroke-width="1"/>
<line x1="289.4" y1="265" x2="289.4" y2="260.7" stroke="#808080" stroke-width="1"/>
<text x="289.4" y="280.6" font-size="12" fill="#262626" text-anchor="middle">2</text>
<line x1="374.6" y1="44.5" x2="374.6" y2="48.8" stroke="#808080" stroke-width="1"/>
<line x1="374.6" y1="265" x2="374.6" y2="260.7" stroke="#808080" stroke-width="1"/>
<text x="374.6" y="280.6" font-size="12" fill="#262626" text-anchor="middle">5</text>
<line x1="418.3" y1="44.5" x2="418.3" y2="48.8" stroke="#808080" stroke-width="1"/>
<line x1="418.3" y1="265" x2="418.3" y2="260.7" stroke="#808080" stroke-width="1"/>
<text x="418.3" y="280.6" font-size="12" fill="#262626" text-anchor="middle">8</text>
<line x1="463.4" y1="44.5" x2="463.4" y2="48.8" stroke="#808080" stroke-width="1"/>
<line x1="463.4" y1="265" x2="463.4" y2="260.7" stroke="#808080" stroke-width="1"/>
<text x="463.4" y="280.6" font-size="12" fill="#262626" text-anchor="middle">13</text>
<line x1="503.4" y1="44.5" x2="503.4" y2="48.8" stroke="#808080" stroke-width="1"/>
<line x1="503.4" y1="265" x2="503.4" y2="260.7" stroke="#808080" stroke-width="1"/>
<text x="503.4" y="280.6" font-size="12" fill="#262626" text-anchor="middle">20</text>
<text x="306.5" y="296.8" font-size="12" fill="#262626" text-anchor="middle">Wavelength (µm)</text>
<text transform="translate(70.2,164.6) rotate(-90)" font-size="11.8" fill="#262626" text-anchor="middle">Absorptivity/Emissivity</text>
<path d="M96.0,57.40 L96.5,57.36 L97.0,57.32 L97.5,57.28 L98.0,57.24 L98.5,57.20 L99.0,57.16 L99.5,57.12 L100.0,57.09 L100.5,57.05 L101.0,57.01 L101.5,56.97 L102.0,56.93 L102.5,56.89 L103.0,56.85 L103.5,56.81 L104.0,56.77 L104.5,56.73 L105.0,56.69 L105.5,56.65 L106.0,56.61 L106.5,56.57 L107.0,56.54 L107.5,56.50 L108.0,56.46 L108.5,56.42 L109.0,56.38 L109.5,56.34 L110.0,56.30 L110.5,56.28 L111.0,56.27 L111.5,56.25 L112.0,56.23 L112.5,56.21 L113.0,56.20 L113.5,56.18 L114.0,56.16 L114.5,56.14 L115.0,56.12 L115.5,56.11 L116.0,56.09 L116.5,56.07 L117.0,56.05 L117.5,56.04 L118.0,56.02 L118.5,56.00 L119.0,55.98 L119.5,55.97 L120.0,55.95 L120.5,55.93 L121.0,55.91 L121.5,55.90 L122.0,55.88 L122.5,55.86 L123.0,55.84 L123.5,55.83 L124.0,55.81 L124.5,55.79 L125.0,55.77 L125.5,55.76 L126.0,55.74 L126.5,55.72 L127.0,55.70 L127.5,55.69 L128.0,55.67 L128.5,55.65 L129.0,55.63 L129.5,55.62 L130.0,55.60 L130.5,55.59 L131.0,55.58 L131.5,55.58 L132.0,55.57 L132.5,55.56 L133.0,55.55 L133.5,55.54 L134.0,55.53 L134.5,55.52 L135.0,55.52 L135.5,55.51 L136.0,55.50 L136.5,55.49 L137.0,55.48 L137.5,55.48 L138.0,55.47 L138.5,55.46 L139.0,55.45 L139.5,55.44 L140.0,55.43 L140.5,55.43 L141.0,55.42 L141.5,55.41 L142.0,55.40 L142.5,55.39 L143.0,55.38 L143.5,55.38 L144.0,55.37 L144.5,55.36 L145.0,55.35 L145.5,55.34 L146.0,55.33 L146.5,55.33 L147.0,55.32 L147.5,55.31 L148.0,55.30 L148.5,55.29 L149.0,55.28 L149.5,55.27 L150.0,55.27 L150.5,55.26 L151.0,55.25 L151.5,55.24 L152.0,55.23 L152.5,55.23 L153.0,55.22 L153.5,55.21 L154.0,55.20 L154.5,55.19 L155.0,55.18 L155.5,55.18 L156.0,55.17 L156.5,55.16 L157.0,55.15 L157.5,55.14 L158.0,55.13 L158.5,55.12 L159.0,55.12 L159.5,55.11 L160.0,55.10 L160.5,55.10 L161.0,55.10 L161.5,55.10 L162.0,55.10 L162.5,55.10 L163.0,55.10 L163.5,55.10 L164.0,55.10 L164.5,55.10 L165.0,55.10 L165.5,55.10 L166.0,55.10 L166.5,55.10 L167.0,55.10 L167.5,55.10 L168.0,55.10 L168.5,55.10 L169.0,55.10 L169.5,55.10 L170.0,55.10 L170.5,55.10 L171.0,55.10 L171.5,55.10 L172.0,55.10 L172.5,55.10 L173.0,55.10 L173.5,55.10 L174.0,55.10 L174.5,55.10 L175.0,55.10 L175.5,55.10 L176.0,55.10 L176.5,55.10 L177.0,55.10 L177.5,55.10 L178.0,55.10 L178.5,55.10 L179.0,55.10 L179.5,55.10 L180.0,55.10 L180.5,55.10 L181.0,55.10 L181.5,55.10 L182.0,55.10 L182.5,55.10 L183.0,55.10 L183.5,55.10 L184.0,55.10 L184.5,55.10 L185.0,55.10 L185.5,55.10 L186.0,55.10 L186.5,55.10 L187.0,55.10 L187.5,55.10 L188.0,55.10 L188.5,55.10 L189.0,55.10 L189.5,55.10 L190.0,55.10 L190.5,55.11 L191.0,55.12 L191.5,55.13 L192.0,55.14 L192.5,55.15 L193.0,55.16 L193.5,55.17 L194.0,55.18 L194.5,55.19 L195.0,55.20 L195.5,55.21 L196.0,55.22 L196.5,55.23 L197.0,55.23 L197.5,55.24 L198.0,55.25 L198.5,55.26 L199.0,55.27 L199.5,55.28 L200.0,55.29 L200.5,55.30 L201.0,55.31 L201.5,55.32 L202.0,55.33 L202.5,55.34 L203.0,55.35 L203.5,55.36 L204.0,55.37 L204.5,55.38 L205.0,55.39 L205.5,55.40 L206.0,55.41 L206.5,55.42 L207.0,55.43 L207.5,55.44 L208.0,55.45 L208.5,55.46 L209.0,55.47 L209.5,55.48 L210.0,55.48 L210.5,55.49 L211.0,55.50 L211.5,55.51 L212.0,55.52 L212.5,55.53 L213.0,55.54 L213.5,55.55 L214.0,55.56 L214.5,55.57 L215.0,55.58 L215.5,55.59 L216.0,55.60 L216.5,55.65 L217.0,55.69 L217.5,55.74 L218.0,55.79 L218.5,55.83 L219.0,55.88 L219.5,55.92 L220.0,55.97 L220.5,56.02 L221.0,56.06 L221.5,56.11 L222.0,56.16 L222.5,56.20 L223.0,56.25 L223.5,56.30 L224.0,56.34 L224.5,56.39 L225.0,56.44 L225.5,56.48 L226.0,56.53 L226.5,56.58 L227.0,56.62 L227.5,56.67 L228.0,56.71 L228.5,56.76 L229.0,56.81 L229.5,56.85 L230.0,56.90 L230.5,56.97 L231.0,57.04 L231.5,57.11 L232.0,57.18 L232.5,57.25 L233.0,57.32 L233.5,57.39 L234.0,57.46 L234.5,57.53 L235.0,57.60 L235.5,57.67 L236.0,57.74 L236.5,57.81 L237.0,57.88 L237.5,57.95 L238.0,58.02 L238.5,58.09 L239.0,58.16 L239.5,58.23 L240.0,58.30 L240.5,58.37 L241.0,58.44 L241.5,58.51 L242.0,58.58 L242.5,58.65 L243.0,58.72 L243.5,58.79 L244.0,58.86 L244.5,58.93 L245.0,59.00 L245.5,59.07 L246.0,59.14 L246.5,59.21 L247.0,59.28 L247.5,59.35 L248.0,59.42 L248.5,59.49 L249.0,59.56 L249.5,59.63 L250.0,59.70 L250.5,59.75 L251.0,59.80 L251.5,59.86 L252.0,59.91 L252.5,59.96 L253.0,60.02 L253.5,60.07 L254.0,60.12 L254.5,60.17 L255.0,60.23 L255.5,60.28 L256.0,60.33 L256.5,60.38 L257.0,60.44 L257.5,60.49 L258.0,60.54 L258.5,60.59 L259.0,60.65 L259.5,60.70 L260.0,60.75 L260.5,60.80 L261.0,60.85 L261.5,60.91 L262.0,60.96 L262.5,61.01 L263.0,61.06 L263.5,61.12 L264.0,61.17 L264.5,61.22 L265.0,61.27 L265.5,61.33 L266.0,61.38 L266.5,61.43 L267.0,61.48 L267.5,61.54 L268.0,61.59 L268.5,61.64 L269.0,61.70 L269.5,61.75 L270.0,61.80 L270.5,61.83 L271.0,61.86 L271.5,61.89 L272.0,61.92 L272.5,61.95 L273.0,61.98 L273.5,62.01 L274.0,62.04 L274.5,62.07 L275.0,62.10 L275.5,62.13 L276.0,62.16 L276.5,62.19 L277.0,62.22 L277.5,62.25 L278.0,62.28 L278.5,62.31 L279.0,62.34 L279.5,62.37 L280.0,62.40 L280.5,62.43 L281.0,62.46 L281.5,62.49 L282.0,62.52 L282.5,62.55 L283.0,62.58 L283.5,62.61 L284.0,62.64 L284.5,62.67 L285.0,62.70 L285.5,62.73 L286.0,62.76 L286.5,62.79 L287.0,62.82 L287.5,62.85 L288.0,62.88 L288.5,62.91 L289.0,62.94 L289.5,62.97 L290.0,63.00 L290.5,63.01 L291.0,63.01 L291.5,63.02 L292.0,63.03 L292.5,63.03 L293.0,63.04 L293.5,63.05 L294.0,63.05 L294.5,63.06 L295.0,63.07 L295.5,63.07 L296.0,63.08 L296.5,63.09 L297.0,63.09 L297.5,63.10 L298.0,63.11 L298.5,63.11 L299.0,63.12 L299.5,63.13 L300.0,63.13 L300.5,63.14 L301.0,63.15 L301.5,63.15 L302.0,63.16 L302.5,63.17 L303.0,63.17 L303.5,63.18 L304.0,63.19 L304.5,63.19 L305.0,63.20 L305.5,63.09 L306.0,62.98 L306.5,62.86 L307.0,62.75 L307.5,62.64 L308.0,62.52 L308.5,62.41 L309.0,62.30 L309.5,62.17 L310.0,62.05 L310.5,61.92 L311.0,61.80 L311.5,61.97 L312.0,62.15 L312.5,62.42 L313.0,62.32 L313.5,62.57 L314.0,62.90 L314.5,63.28 L315.0,63.56 L315.5,62.92 L316.0,62.38 L316.5,61.49 L317.0,61.19 L317.5,60.35 L318.0,59.82 L318.5,58.93 L319.0,57.91 L319.5,56.96 L320.0,56.08 L320.5,56.08 L321.0,56.04 L321.5,55.92 L322.0,55.61 L322.5,55.52 L323.0,55.39 L323.5,55.40 L324.0,54.96 L324.5,55.20 L325.0,54.84 L325.5,54.66 L326.0,54.64 L326.5,54.57 L327.0,54.34 L327.5,54.60 L328.0,54.66 L328.5,54.96 L329.0,55.13 L329.5,55.14 L330.0,55.49 L330.5,55.51 L331.0,55.67 L331.5,55.72 L332.0,55.97 L332.5,56.03 L333.0,55.73 L333.5,55.90 L334.0,55.81 L334.5,55.74 L335.0,55.39 L335.5,55.58 L336.0,55.61 L336.5,55.38 L337.0,55.43 L337.5,55.07 L338.0,55.38 L338.5,55.42 L339.0,55.80 L339.5,55.68 L340.0,56.18 L340.5,56.27 L341.0,56.60 L341.5,56.59 L342.0,56.83 L342.5,57.37 L343.0,57.20 L343.5,57.42 L344.0,57.67 L344.5,57.68 L345.0,58.04 L345.5,58.21 L346.0,58.02 L346.5,57.99 L347.0,58.44 L347.5,58.53 L348.0,58.60 L348.5,58.79 L349.0,58.70 L349.5,58.93 L350.0,58.93 L350.5,59.08 L351.0,59.52 L351.5,59.47 L352.0,59.97 L352.5,59.56 L353.0,59.32 L353.5,59.35 L354.0,59.32 L354.5,59.01 L355.0,58.65 L355.5,58.69 L356.0,58.67 L356.5,57.94 L357.0,57.41 L357.5,57.12 L358.0,57.92 L358.5,58.67 L359.0,59.65 L359.5,59.68 L360.0,59.89 L360.5,59.94 L361.0,60.14 L361.5,60.16 L362.0,59.96 L362.5,60.27 L363.0,60.41 L363.5,60.33 L364.0,60.37 L364.5,60.16 L365.0,60.09 L365.5,60.29 L366.0,60.02 L366.5,59.87 L367.0,60.22 L367.5,59.91 L368.0,59.86 L368.5,59.63 L369.0,59.54 L369.5,59.46 L370.0,59.46 L370.5,59.44 L371.0,59.02 L371.5,59.32 L372.0,59.01 L372.5,58.95 L373.0,59.08 L373.5,58.92 L374.0,58.67 L374.5,59.00 L375.0,58.60 L375.5,58.83 L376.0,58.92 L376.5,59.17 L377.0,59.05 L377.5,59.32 L378.0,59.21 L378.5,59.53 L379.0,59.41 L379.5,59.48 L380.0,59.78 L380.5,59.61 L381.0,59.61 L381.5,59.89 L382.0,59.69 L382.5,59.58 L383.0,59.79 L383.5,59.27 L384.0,59.27 L384.5,58.99 L385.0,58.50 L385.5,58.21 L386.0,58.02 L386.5,57.40 L387.0,56.68 L387.5,56.27 L388.0,55.35 L388.5,55.51 L389.0,55.48 L389.5,55.47 L390.0,55.50 L390.5,55.29 L391.0,55.47 L391.5,55.35 L392.0,55.26 L392.5,55.14 L393.0,55.12 L393.5,55.28 L394.0,55.08 L394.5,55.17 L395.0,55.24 L395.5,55.20 L396.0,55.22 L396.5,54.96 L397.0,54.82 L397.5,55.03 L398.0,54.90 L398.5,54.96 L399.0,54.78 L399.5,54.89 L400.0,54.80 L400.5,54.84 L401.0,54.86 L401.5,54.90 L402.0,54.93 L402.5,54.98 L403.0,55.12 L403.5,54.99 L404.0,55.31 L404.5,55.14 L405.0,55.32 L405.5,55.20 L406.0,55.19 L406.5,55.47 L407.0,55.20 L407.5,55.10 L408.0,55.17 L408.5,55.23 L409.0,55.54 L409.5,55.31 L410.0,55.41 L410.5,55.23 L411.0,55.44 L411.5,55.53 L412.0,55.72 L412.5,55.47 L413.0,55.67 L413.5,55.69 L414.0,55.58 L414.5,55.75 L415.0,55.77 L415.5,55.59 L416.0,56.01 L416.5,56.07 L417.0,56.03 L417.5,55.99 L418.0,56.40 L418.5,56.32 L419.0,56.48 L419.5,56.60 L420.0,56.44 L420.5,56.64 L421.0,56.56 L421.5,56.62 L422.0,56.66 L422.5,56.72 L423.0,56.90 L423.5,56.82 L424.0,56.83 L424.5,56.86 L425.0,56.98 L425.5,56.87 L426.0,56.96 L426.5,57.06 L427.0,57.04 L427.5,57.14 L428.0,57.13 L428.5,57.45 L429.0,57.39 L429.5,57.30 L430.0,57.25 L430.5,57.53 L431.0,57.32 L431.5,57.29 L432.0,57.35 L432.5,57.37 L433.0,57.51 L433.5,57.35 L434.0,57.62 L434.5,57.28 L435.0,57.48 L435.5,57.25 L436.0,57.56 L436.5,57.27 L437.0,57.27 L437.5,57.36 L438.0,57.37 L438.5,57.06 L439.0,57.12 L439.5,56.96 L440.0,57.12 L440.5,57.07 L441.0,57.02 L441.5,56.96 L442.0,56.97 L442.5,56.91 L443.0,57.04 L443.5,57.14 L444.0,56.71 L444.5,56.91 L445.0,56.85 L445.5,56.92 L446.0,56.71 L446.5,56.76 L447.0,56.62 L447.5,56.78 L448.0,56.67 L448.5,56.60 L449.0,56.62 L449.5,56.51 L450.0,56.31 L450.5,56.55 L451.0,56.48 L451.5,56.41 L452.0,56.52 L452.5,56.52 L453.0,56.22 L453.5,56.23 L454.0,56.49 L454.5,56.45 L455.0,56.16 L455.5,56.08 L456.0,56.12 L456.5,56.14 L457.0,56.02 L457.5,56.21 L458.0,56.06 L458.5,56.07 L459.0,56.33 L459.5,56.14 L460.0,56.21 L460.5,56.30 L461.0,56.33 L461.5,56.19 L462.0,56.24 L462.5,56.14 L463.0,56.45 L463.5,56.32 L464.0,56.11 L464.5,56.25 L465.0,56.34 L465.5,56.29 L466.0,56.44 L466.5,56.37 L467.0,56.13 L467.5,56.16 L468.0,56.01 L468.5,56.17 L469.0,56.15 L469.5,56.44 L470.0,56.11 L470.5,55.83 L471.0,55.98 L471.5,56.05 L472.0,55.87 L472.5,55.90 L473.0,55.94 L473.5,56.00 L474.0,55.92 L474.5,55.81 L475.0,55.99 L475.5,55.74 L476.0,55.64 L476.5,55.43 L477.0,55.41 L477.5,55.74 L478.0,55.64 L478.5,55.99 L479.0,56.25 L479.5,56.29 L480.0,56.53 L480.5,56.62 L481.0,57.16 L481.5,57.38 L482.0,57.53 L482.5,57.14 L483.0,57.07 L483.5,57.17 L484.0,57.11 L484.5,56.79 L485.0,56.75 L485.5,56.38 L486.0,56.28 L486.5,56.17 L487.0,56.09 L487.5,55.72 L488.0,55.89 L488.5,55.80 L489.0,55.37 L489.5,55.22 L490.0,55.29 L490.5,55.50 L491.0,55.62 L491.5,57.36 L492.0,58.65 L492.5,59.94 L493.0,61.59 L493.5,62.68 L494.0,63.91 L494.5,62.68 L495.0,61.21 L495.5,59.91 L496.0,60.30 L496.5,60.43 L497.0,61.20 L497.5,62.20 L498.0,62.85 L498.5,66.47 L499.0,70.06 L499.5,73.56 L500.0,77.17 L500.5,75.50 L501.0,74.22 L501.5,72.89 L502.0,71.97 L502.5,71.53 L503.0,71.36 L503.5,71.16 L504.0,70.97 L504.5,70.42 L505.0,70.20 L505.5,69.86 L506.0,69.51 L506.5,69.11 L507.0,68.91 L507.5,68.34 L508.0,68.21 L508.5,67.85 L509.0,67.42 L509.5,67.21 L510.0,67.00 L510.5,67.22 L511.0,66.67 L511.5,66.85 L512.0,66.57 L512.5,66.58 L513.0,66.61 L513.5,67.00 L514.0,67.21 L514.5,67.08 L515.0,67.34 L515.5,67.69 L516.0,67.79" fill="none" stroke="#F01818" stroke-width="1.3" stroke-linejoin="round"/>
<path d="M96,52.8 L308.5,52.8 L308.5,263 L516,263" fill="none" stroke="#2E8CD8" stroke-width="1.4" stroke-dasharray="4.1,4.05" stroke-dashoffset="7.25"/>
<path d="M310,261 L414.6,261 L414.6,50.5 L468.6,50.5 L468.6,261 L516,261" fill="none" stroke="#111" stroke-width="1.35" stroke-dasharray="3,2,1.2,2"/>
<path d="M307.58,265.29 L308.04,265.28 L308.51,265.27 L308.98,265.26 L309.45,265.25 L309.92,265.24 L310.39,265.23 L310.85,265.22 L311.32,265.20 L311.79,265.19 L312.26,265.18 L312.73,265.16 L313.20,265.14 L313.66,265.12 L314.13,265.11 L314.60,265.09 L315.07,265.06 L315.54,265.04 L316.01,265.02 L316.47,264.99 L316.94,264.97 L317.41,264.94 L317.88,264.91 L318.35,264.88 L318.82,264.84 L319.29,264.81 L319.75,264.77 L320.22,264.73 L320.69,264.69 L321.16,264.64 L321.63,264.60 L322.10,264.55 L322.56,264.50 L323.03,264.45 L323.50,264.39 L323.97,264.33 L324.44,264.27 L324.91,264.20 L325.37,264.13 L325.84,264.06 L326.31,263.98 L326.78,263.90 L327.25,263.82 L327.72,263.73 L328.18,263.64 L328.65,263.55 L329.12,263.45 L329.59,263.34 L330.06,263.23 L330.53,263.12 L330.99,263.00 L331.46,262.87 L331.93,262.74 L332.40,262.61 L332.87,262.46 L333.34,262.32 L333.80,262.16 L334.27,262.00 L334.74,261.83 L335.21,261.66 L335.68,261.48 L336.15,261.29 L336.61,261.09 L337.08,260.89 L337.55,260.68 L338.02,260.46 L338.49,260.23 L338.96,259.99 L339.42,259.75 L339.89,259.49 L340.36,259.23 L340.83,258.96 L341.30,258.67 L341.77,258.38 L342.23,258.08 L342.70,257.76 L343.17,257.44 L343.64,257.11 L344.11,256.76 L344.58,256.40 L345.04,256.03 L345.51,255.65 L345.98,255.26 L346.45,254.85 L346.92,254.43 L347.39,254.00 L347.85,253.55 L348.32,253.10 L348.79,252.63 L349.26,252.14 L349.73,251.64 L350.20,251.13 L350.67,250.60 L351.13,250.05 L351.60,249.50 L352.07,248.92 L352.54,248.33 L353.01,247.73 L353.48,247.11 L353.94,246.47 L354.41,245.82 L354.88,245.15 L355.35,244.47 L355.82,243.77 L356.29,243.05 L356.75,242.31 L357.22,241.56 L357.69,240.79 L358.16,240.00 L358.63,239.20 L359.10,238.37 L359.56,237.53 L360.03,236.67 L360.50,235.80 L360.97,234.90 L361.44,233.99 L361.91,233.06 L362.37,232.11 L362.84,231.14 L363.31,230.15 L363.78,229.15 L364.25,228.13 L364.72,227.08 L365.18,226.02 L365.65,224.94 L366.12,223.85 L366.59,222.73 L367.06,221.60 L367.53,220.44 L367.99,219.27 L368.46,218.08 L368.93,216.88 L369.40,215.65 L369.87,214.41 L370.34,213.15 L370.80,211.87 L371.27,210.58 L371.74,209.26 L372.21,207.93 L372.68,206.59 L373.15,205.22 L373.61,203.84 L374.08,202.45 L374.55,201.04 L375.02,199.61 L375.49,198.17 L375.96,196.71 L376.42,195.24 L376.89,193.75 L377.36,192.25 L377.83,190.73 L378.30,189.21 L378.77,187.66 L379.24,186.11 L379.70,184.54 L380.17,182.96 L380.64,181.37 L381.11,179.77 L381.58,178.16 L382.05,176.54 L382.51,174.91 L382.98,173.26 L383.45,171.61 L383.92,169.95 L384.39,168.28 L384.86,166.61 L385.32,164.93 L385.79,163.24 L386.26,161.54 L386.73,159.84 L387.20,158.14 L387.67,156.43 L388.13,154.71 L388.60,153.00 L389.07,151.28 L389.54,149.56 L390.01,147.83 L390.48,146.11 L390.94,144.38 L391.41,142.66 L391.88,140.93 L392.35,139.21 L392.82,137.48 L393.29,135.76 L393.75,134.05 L394.22,132.33 L394.69,130.63 L395.16,128.92 L395.63,127.22 L396.10,125.53 L396.56,123.84 L397.03,122.16 L397.50,120.49 L397.97,118.82 L398.44,117.17 L398.91,115.52 L399.37,113.89 L399.84,112.26 L400.31,110.65 L400.78,109.05 L401.25,107.46 L401.72,105.88 L402.18,104.31 L402.65,102.76 L403.12,101.23 L403.59,99.71 L404.06,98.20 L404.53,96.71 L404.99,95.24 L405.46,93.78 L405.93,92.35 L406.40,90.93 L406.87,89.52 L407.34,88.14 L407.81,86.78 L408.27,85.43 L408.74,84.11 L409.21,82.81 L409.68,81.53 L410.15,80.27 L410.62,79.03 L411.08,77.82 L411.55,76.62 L412.02,75.46 L412.49,74.31 L412.96,73.19 L413.43,72.09 L413.89,71.02 L414.36,69.97 L414.83,68.95 L415.30,67.95 L415.77,66.98 L416.24,66.03 L416.70,65.11 L417.17,64.22 L417.64,63.35 L418.11,62.52 L418.58,61.70 L419.05,60.92 L419.51,60.16 L419.98,59.43 L420.45,58.73 L420.92,58.06 L421.39,57.41 L421.86,56.79 L422.32,56.20 L422.79,55.64 L423.26,55.11 L423.73,54.61 L424.20,54.13 L424.67,53.68 L425.13,53.26 L425.60,52.88 L426.07,52.51 L426.54,52.18 L427.01,51.88 L427.48,51.60 L427.94,51.36 L428.41,51.14 L428.88,50.95 L429.35,50.79 L429.82,50.65 L430.29,50.55 L430.75,50.47 L431.22,50.42 L431.69,50.40 L432.16,50.41 L432.63,50.44 L433.10,50.50 L433.56,50.59 L434.03,50.70 L434.50,50.84 L434.97,51.01 L435.44,51.21 L435.91,51.43 L436.37,51.67 L436.84,51.95 L437.31,52.24 L437.78,52.56 L438.25,52.91 L438.72,53.28 L439.19,53.68 L439.65,54.10 L440.12,54.54 L440.59,55.01 L441.06,55.50 L441.53,56.02 L442.00,56.55 L442.46,57.11 L442.93,57.69 L443.40,58.29 L443.87,58.92 L444.34,59.56 L444.81,60.23 L445.27,60.91 L445.74,61.62 L446.21,62.34 L446.68,63.09 L447.15,63.85 L447.62,64.63 L448.08,65.43 L448.55,66.25 L449.02,67.08 L449.49,67.93 L449.96,68.80 L450.43,69.69 L450.89,70.59 L451.36,71.50 L451.83,72.43 L452.30,73.38 L452.77,74.34 L453.24,75.31 L453.70,76.30 L454.17,77.31 L454.64,78.32 L455.11,79.35 L455.58,80.39 L456.05,81.44 L456.51,82.50 L456.98,83.57 L457.45,84.66 L457.92,85.75 L458.39,86.86 L458.86,87.97 L459.32,89.10 L459.79,90.23 L460.26,91.37 L460.73,92.52 L461.20,93.68 L461.67,94.84 L462.13,96.01 L462.60,97.19 L463.07,98.38 L463.54,99.57 L464.01,100.77 L464.48,101.97 L464.94,103.18 L465.41,104.39 L465.88,105.61 L466.35,106.83 L466.82,108.05 L467.29,109.28 L467.76,110.51 L468.22,111.74 L468.69,112.98 L469.16,114.22 L469.63,115.46 L470.10,116.70 L470.57,117.95 L471.03,119.19 L471.50,120.44 L471.97,121.69 L472.44,122.94 L472.91,124.18 L473.38,125.43 L473.84,126.68 L474.31,127.92 L474.78,129.17 L475.25,130.41 L475.72,131.65 L476.19,132.89 L476.65,134.13 L477.12,135.37 L477.59,136.60 L478.06,137.84 L478.53,139.07 L479.00,140.29 L479.46,141.52 L479.93,142.74 L480.40,143.95 L480.87,145.16 L481.34,146.37 L481.81,147.58 L482.27,148.78 L482.74,149.97 L483.21,151.17 L483.68,152.35 L484.15,153.53 L484.62,154.71 L485.08,155.88 L485.55,157.05 L486.02,158.21 L486.49,159.36 L486.96,160.51 L487.43,161.66 L487.89,162.79 L488.36,163.93 L488.83,165.05 L489.30,166.17 L489.77,167.28 L490.24,168.39 L490.70,169.49 L491.17,170.58 L491.64,171.67 L492.11,172.74 L492.58,173.82 L493.05,174.88 L493.51,175.94 L493.98,176.99 L494.45,178.03 L494.92,179.07 L495.39,180.10 L495.86,181.12 L496.32,182.13 L496.79,183.14 L497.26,184.14 L497.73,185.13 L498.20,186.11 L498.67,187.08 L499.14,188.05 L499.60,189.01 L500.07,189.96 L500.54,190.91 L501.01,191.84 L501.48,192.77 L501.95,193.69 L502.41,194.60 L502.88,195.50 L503.35,196.40 L503.82,197.29 L504.29,198.17 L504.76,199.04 L505.22,199.90 L505.69,200.76 L506.16,201.61 L506.63,202.45 L507.10,203.28 L507.57,204.10 L508.03,204.92 L508.50,205.72 L508.97,206.52 L509.44,207.32 L509.91,208.10 L510.38,208.87 L510.84,209.64 L511.31,210.40 L511.78,211.15 L512.25,211.90 L512.72,212.63 L513.19,213.36 L513.65,214.08 L514.12,214.80 L514.59,215.50 L515.06,216.20 L515.53,216.89 L516.00,217.57 L516.46,218.25" fill="none" stroke="#000" stroke-width="1.2"/>
<rect x="101" y="147" width="23" height="10.6" fill="#80F880"/>
<text x="127" y="156.1" font-size="11.8" fill="#000">AM 1.5</text>
<rect x="101" y="165" width="23" height="10.6" fill="#7ED6DA"/>
<text x="127.2" y="173.2" font-size="12.5" fill="#000">ϵ<tspan dx="0.6" dy="2.6" font-size="9.5">atm</tspan></text>
<line x1="101" y1="189" x2="124" y2="189" stroke="#F04646" stroke-width="1.5"/>
<text x="127.2" y="191.0" font-size="12.5" fill="#000">ϵ<tspan dx="0.6" dy="2.6" font-size="9.5">absorber</tspan><tspan font-size="8.2">/emitter</tspan></text>
<line x1="101" y1="207" x2="124" y2="207" stroke="#2F88D2" stroke-width="1.5" stroke-dasharray="4.3,3.2"/>
<text x="127.2" y="209.2" font-size="12.5" fill="#000">ϵ<tspan dx="0.6" dy="2.6" font-size="8.8">ideal</tspan><tspan font-size="8.2">-Day</tspan></text>
<line x1="101" y1="223.7" x2="124" y2="223.7" stroke="#111" stroke-width="1.2" stroke-dasharray="4.3,3,1.3,3"/>
<text x="127.2" y="226.0" font-size="12.5" fill="#000">ϵ<tspan dx="0.6" dy="2.6" font-size="8.8">ideal</tspan><tspan font-size="8.2">-Night</tspan></text>
<line x1="101.4" y1="241.2" x2="123.6" y2="241.2" stroke="#000" stroke-width="1.2"/>
<text x="159.5" y="244.7" font-size="11.5" fill="#000" text-anchor="middle">BB at 300 K,</text>
<text x="159.5" y="258.4" font-size="11.5" fill="#000" text-anchor="middle">Normalized</text>
<text x="533.0" y="47.4" font-size="13.5" font-weight="bold" fill="#000">B</text>
<path d="M559.10,134.04 A19.26,19.26 0 0 1 578.36,153.30" fill="none" stroke="#BDBDBD" stroke-width="0.8"/>
<path d="M559.10,114.78 A38.52,38.52 0 0 1 597.62,153.30" fill="none" stroke="#BDBDBD" stroke-width="0.8"/>
<path d="M559.10,95.52 A57.78,57.78 0 0 1 616.88,153.30" fill="none" stroke="#BDBDBD" stroke-width="0.8"/>
<path d="M559.10,76.26 A77.04,77.04 0 0 1 636.14,153.30" fill="none" stroke="#BDBDBD" stroke-width="0.8"/>
<line x1="559.10" y1="153.30" x2="575.82" y2="58.46" stroke="#BDBDBD" stroke-width="0.8"/>
<line x1="559.10" y1="153.30" x2="592.04" y2="62.81" stroke="#BDBDBD" stroke-width="0.8"/>
<line x1="559.10" y1="153.30" x2="607.25" y2="69.90" stroke="#BDBDBD" stroke-width="0.8"/>
<line x1="559.10" y1="153.30" x2="621.00" y2="79.53" stroke="#BDBDBD" stroke-width="0.8"/>
<line x1="559.10" y1="153.30" x2="632.87" y2="91.40" stroke="#BDBDBD" stroke-width="0.8"/>
<line x1="559.10" y1="153.30" x2="642.50" y2="105.15" stroke="#BDBDBD" stroke-width="0.8"/>
<line x1="559.10" y1="153.30" x2="649.59" y2="120.36" stroke="#BDBDBD" stroke-width="0.8"/>
<line x1="559.10" y1="153.30" x2="653.94" y2="136.58" stroke="#BDBDBD" stroke-width="0.8"/>
<path d="M559.10,59.31 L560.74,59.33 L562.38,59.37 L564.02,59.44 L565.66,59.54 L567.29,59.67 L568.92,59.83 L570.55,60.02 L572.18,60.24 L573.80,60.48 L575.42,60.76 L577.03,61.06 L578.64,61.39 L580.24,61.75 L581.83,62.14 L583.42,62.55 L584.99,62.99 L586.57,63.47 L588.13,63.96 L589.68,64.49 L591.22,65.04 L592.76,65.63 L594.28,66.23 L595.79,66.87 L597.29,67.53 L598.78,68.22 L600.25,68.93 L601.71,69.67 L603.16,70.43 L604.60,71.22 L606.02,72.04 L607.42,72.88 L608.81,73.74 L610.19,74.63 L611.55,75.55 L612.89,76.48 L614.21,77.44 L615.52,78.43 L616.81,79.43 L618.08,80.46 L619.34,81.51 L620.57,82.59 L621.79,83.68 L622.98,84.80 L624.16,85.93 L625.31,87.09 L626.45,88.26 L627.56,89.46 L628.65,90.68 L629.72,91.91 L630.77,93.16 L631.79,94.43 L632.79,95.72 L633.77,97.03 L634.73,98.35 L635.66,99.69 L636.57,101.05 L637.45,102.42 L638.31,103.80 L639.15,105.20 L639.96,106.62 L640.74,108.05 L641.50,109.49 L642.23,110.94 L642.94,112.41 L643.62,113.89 L644.27,115.38 L644.90,116.88 L645.50,118.39 L646.08,119.91 L646.62,121.44 L647.14,122.98 L647.63,124.53 L648.10,126.09 L648.54,127.65 L648.94,129.23" fill="none" stroke="#000" stroke-width="1.3" stroke-linejoin="round"/>
<path d="M559.10,57.00 A96.30,96.30 0 0 1 655.40,153.30" fill="none" stroke="#A8A8A8" stroke-width="0.9"/>
<line x1="559.10" y1="153.30" x2="559.10" y2="57.00" stroke="#C4C4C4" stroke-width="0.8"/>
<line x1="559.10" y1="153.30" x2="655.40" y2="153.30" stroke="#BDBDBD" stroke-width="0.8"/>
<line x1="563.92" y1="153.30" x2="563.92" y2="151.70" stroke="#A0A0A0" stroke-width="0.6"/>
<line x1="568.73" y1="153.30" x2="568.73" y2="151.70" stroke="#A0A0A0" stroke-width="0.6"/>
<line x1="573.55" y1="153.30" x2="573.55" y2="151.70" stroke="#A0A0A0" stroke-width="0.6"/>
<line x1="578.36" y1="153.30" x2="578.36" y2="151.70" stroke="#A0A0A0" stroke-width="0.6"/>
<line x1="583.18" y1="153.30" x2="583.18" y2="151.70" stroke="#A0A0A0" stroke-width="0.6"/>
<line x1="587.99" y1="153.30" x2="587.99" y2="151.70" stroke="#A0A0A0" stroke-width="0.6"/>
<line x1="592.81" y1="153.30" x2="592.81" y2="151.70" stroke="#A0A0A0" stroke-width="0.6"/>
<line x1="597.62" y1="153.30" x2="597.62" y2="151.70" stroke="#A0A0A0" stroke-width="0.6"/>
<line x1="602.44" y1="153.30" x2="602.44" y2="151.70" stroke="#A0A0A0" stroke-width="0.6"/>
<line x1="607.25" y1="153.30" x2="607.25" y2="151.70" stroke="#A0A0A0" stroke-width="0.6"/>
<line x1="612.07" y1="153.30" x2="612.07" y2="151.70" stroke="#A0A0A0" stroke-width="0.6"/>
<line x1="616.88" y1="153.30" x2="616.88" y2="151.70" stroke="#A0A0A0" stroke-width="0.6"/>
<line x1="621.70" y1="153.30" x2="621.70" y2="151.70" stroke="#A0A0A0" stroke-width="0.6"/>
<line x1="626.51" y1="153.30" x2="626.51" y2="151.70" stroke="#A0A0A0" stroke-width="0.6"/>
<line x1="631.33" y1="153.30" x2="631.33" y2="151.70" stroke="#A0A0A0" stroke-width="0.6"/>
<line x1="636.14" y1="153.30" x2="636.14" y2="151.70" stroke="#A0A0A0" stroke-width="0.6"/>
<line x1="640.96" y1="153.30" x2="640.96" y2="151.70" stroke="#A0A0A0" stroke-width="0.6"/>
<line x1="645.77" y1="153.30" x2="645.77" y2="151.70" stroke="#A0A0A0" stroke-width="0.6"/>
<line x1="650.59" y1="153.30" x2="650.59" y2="151.70" stroke="#A0A0A0" stroke-width="0.6"/>
<line x1="564.14" y1="57.13" x2="564.06" y2="58.73" stroke="#A0A0A0" stroke-width="0.6"/>
<line x1="569.17" y1="57.53" x2="569.00" y2="59.12" stroke="#A0A0A0" stroke-width="0.6"/>
<line x1="574.16" y1="58.19" x2="573.91" y2="59.77" stroke="#A0A0A0" stroke-width="0.6"/>
<line x1="579.12" y1="59.10" x2="578.79" y2="60.67" stroke="#A0A0A0" stroke-width="0.6"/>
<line x1="584.02" y1="60.28" x2="583.61" y2="61.83" stroke="#A0A0A0" stroke-width="0.6"/>
<line x1="588.86" y1="61.71" x2="588.36" y2="63.23" stroke="#A0A0A0" stroke-width="0.6"/>
<line x1="593.61" y1="63.40" x2="593.04" y2="64.89" stroke="#A0A0A0" stroke-width="0.6"/>
<line x1="598.27" y1="65.33" x2="597.62" y2="66.79" stroke="#A0A0A0" stroke-width="0.6"/>
<line x1="602.82" y1="67.50" x2="602.09" y2="68.92" stroke="#A0A0A0" stroke-width="0.6"/>
<line x1="607.25" y1="69.90" x2="606.45" y2="71.29" stroke="#A0A0A0" stroke-width="0.6"/>
<line x1="611.55" y1="72.54" x2="610.68" y2="73.88" stroke="#A0A0A0" stroke-width="0.6"/>
<line x1="615.70" y1="75.39" x2="614.76" y2="76.69" stroke="#A0A0A0" stroke-width="0.6"/>
<line x1="619.70" y1="78.46" x2="618.70" y2="79.70" stroke="#A0A0A0" stroke-width="0.6"/>
<line x1="623.54" y1="81.74" x2="622.47" y2="82.92" stroke="#A0A0A0" stroke-width="0.6"/>
<line x1="627.19" y1="85.21" x2="626.06" y2="86.34" stroke="#A0A0A0" stroke-width="0.6"/>
<line x1="630.66" y1="88.86" x2="629.48" y2="89.93" stroke="#A0A0A0" stroke-width="0.6"/>
<line x1="633.94" y1="92.70" x2="632.70" y2="93.70" stroke="#A0A0A0" stroke-width="0.6"/>
<line x1="637.01" y1="96.70" x2="635.71" y2="97.64" stroke="#A0A0A0" stroke-width="0.6"/>
<line x1="639.86" y1="100.85" x2="638.52" y2="101.72" stroke="#A0A0A0" stroke-width="0.6"/>
<line x1="642.50" y1="105.15" x2="641.11" y2="105.95" stroke="#A0A0A0" stroke-width="0.6"/>
<line x1="644.90" y1="109.58" x2="643.48" y2="110.31" stroke="#A0A0A0" stroke-width="0.6"/>
<line x1="647.07" y1="114.13" x2="645.61" y2="114.78" stroke="#A0A0A0" stroke-width="0.6"/>
<line x1="649.00" y1="118.79" x2="647.51" y2="119.36" stroke="#A0A0A0" stroke-width="0.6"/>
<line x1="650.69" y1="123.54" x2="649.17" y2="124.04" stroke="#A0A0A0" stroke-width="0.6"/>
<line x1="652.12" y1="128.38" x2="650.57" y2="128.79" stroke="#A0A0A0" stroke-width="0.6"/>
<line x1="653.30" y1="133.28" x2="651.73" y2="133.61" stroke="#A0A0A0" stroke-width="0.6"/>
<line x1="654.21" y1="138.24" x2="652.63" y2="138.49" stroke="#A0A0A0" stroke-width="0.6"/>
<line x1="654.87" y1="143.23" x2="653.28" y2="143.40" stroke="#A0A0A0" stroke-width="0.6"/>
<line x1="655.27" y1="148.26" x2="653.67" y2="148.34" stroke="#A0A0A0" stroke-width="0.6"/>
<text x="559.2" y="53.1" font-size="10.0" fill="#262626" text-anchor="middle">0</text>
<text x="576.7" y="54.2" font-size="10.0" fill="#262626" text-anchor="middle">10</text>
<text x="598.5" y="58.8" font-size="10.0" fill="#262626" text-anchor="middle">20</text>
<text x="613.9" y="65.8" font-size="10.0" fill="#262626" text-anchor="middle">30</text>
<text x="628.3" y="75.9" font-size="10.0" fill="#262626" text-anchor="middle">40</text>
<text x="640.8" y="88.3" font-size="10.0" fill="#262626" text-anchor="middle">50</text>
<text x="650.4" y="102.3" font-size="10.0" fill="#262626" text-anchor="middle">60</text>
<text x="658.3" y="123.8" font-size="10.0" fill="#262626" text-anchor="middle">70</text>
<text x="661.7" y="140.9" font-size="10.0" fill="#262626" text-anchor="middle">80</text>
<text x="663.7" y="157.6" font-size="10.0" fill="#262626" text-anchor="middle">90</text>
<text transform="translate(650.6,83.7) rotate(52)" font-size="11" fill="#262626" text-anchor="middle">AOI</text>
<text transform="translate(556.2,134.0) rotate(-90)" font-size="10.0" fill="#262626" text-anchor="middle">0.2</text>
<text transform="translate(556.2,114.8) rotate(-90)" font-size="10.0" fill="#262626" text-anchor="middle">0.4</text>
<text transform="translate(556.2,95.5) rotate(-90)" font-size="10.0" fill="#262626" text-anchor="middle">0.6</text>
<text transform="translate(556.2,76.3) rotate(-90)" font-size="10.0" fill="#262626" text-anchor="middle">0.8</text>
<text transform="translate(556.2,57.0) rotate(-90)" font-size="10.0" fill="#262626" text-anchor="middle">1</text>
<text x="552.9" y="159.5" font-size="10.0" fill="#262626" text-anchor="middle">0</text>
<text x="578.4" y="166.1" font-size="10.0" fill="#262626" text-anchor="middle">0.2</text>
<text x="597.6" y="166.1" font-size="10.0" fill="#262626" text-anchor="middle">0.4</text>
<text x="616.9" y="166.1" font-size="10.0" fill="#262626" text-anchor="middle">0.6</text>
<text x="636.1" y="166.1" font-size="10.0" fill="#262626" text-anchor="middle">0.8</text>
<text x="655.4" y="166.1" font-size="10.0" fill="#262626" text-anchor="middle">1</text>
<text transform="translate(543.3,104.0) rotate(-90)" font-size="13" font-style="italic" fill="#000" text-anchor="middle">ϵ<tspan dy="2.4" font-size="9.5">solar</tspan><tspan dy="-2.4">(θ)</tspan></text>
<text x="533.5" y="181.1" font-size="13.5" font-weight="bold" fill="#000">C</text>
<path d="M558.40,261.04 A19.26,19.26 0 0 1 577.66,280.30" fill="none" stroke="#BDBDBD" stroke-width="0.8"/>
<path d="M558.40,241.78 A38.52,38.52 0 0 1 596.92,280.30" fill="none" stroke="#BDBDBD" stroke-width="0.8"/>
<path d="M558.40,222.52 A57.78,57.78 0 0 1 616.18,280.30" fill="none" stroke="#BDBDBD" stroke-width="0.8"/>
<path d="M558.40,203.26 A77.04,77.04 0 0 1 635.44,280.30" fill="none" stroke="#BDBDBD" stroke-width="0.8"/>
<line x1="558.40" y1="280.30" x2="575.12" y2="185.46" stroke="#BDBDBD" stroke-width="0.8"/>
<line x1="558.40" y1="280.30" x2="591.34" y2="189.81" stroke="#BDBDBD" stroke-width="0.8"/>
<line x1="558.40" y1="280.30" x2="606.55" y2="196.90" stroke="#BDBDBD" stroke-width="0.8"/>
<line x1="558.40" y1="280.30" x2="620.30" y2="206.53" stroke="#BDBDBD" stroke-width="0.8"/>
<line x1="558.40" y1="280.30" x2="632.17" y2="218.40" stroke="#BDBDBD" stroke-width="0.8"/>
<line x1="558.40" y1="280.30" x2="641.80" y2="232.15" stroke="#BDBDBD" stroke-width="0.8"/>
<line x1="558.40" y1="280.30" x2="648.89" y2="247.36" stroke="#BDBDBD" stroke-width="0.8"/>
<line x1="558.40" y1="280.30" x2="653.24" y2="263.58" stroke="#BDBDBD" stroke-width="0.8"/>
<path d="M568.37,185.49 L569.18,185.65 L570.00,185.83 L570.81,186.01 L571.63,186.20 L572.43,186.39 L573.24,186.59 L574.05,186.80 L574.85,187.02 L575.65,187.24 L576.44,187.47 L577.26,187.62 L578.07,187.77 L578.88,187.93 L579.69,188.09 L580.49,188.27 L581.30,188.45 L582.11,188.64 L582.91,188.83 L583.71,189.03 L584.51,189.24 L585.31,189.46 L586.10,189.68 L586.87,190.01 L587.63,190.34 L588.39,190.68 L589.14,191.03 L589.89,191.38 L590.63,191.74 L591.37,192.11 L592.11,192.48 L592.84,192.86 L593.57,193.24 L594.31,193.60 L595.05,193.96 L595.78,194.33 L596.51,194.70 L597.24,195.08 L597.96,195.47 L598.68,195.86 L599.39,196.26 L600.10,196.66 L600.81,197.07 L601.51,197.49 L602.21,197.91 L602.90,198.34 L603.59,198.77 L604.28,199.21 L604.96,199.65 L605.67,200.05 L606.37,200.46 L607.08,200.87 L607.78,201.28 L608.47,201.71 L609.16,202.14 L609.85,202.57 L610.53,203.01 L611.21,203.46 L611.89,203.91 L612.56,204.37 L613.23,204.84 L613.89,205.31 L614.55,205.78 L615.21,206.26 L615.86,206.75 L616.51,207.25 L617.15,207.75 L617.79,208.25 L618.43,208.76 L619.06,209.28 L619.68,209.80 L620.30,210.33 L620.91,210.87 L621.52,211.41 L622.12,211.96 L622.72,212.52 L623.32,213.08 L623.91,213.64 L624.49,214.21 L625.07,214.78 L625.64,215.36 L626.21,215.95 L626.78,216.54 L627.34,217.13 L627.89,217.73 L628.44,218.34 L628.98,218.94 L629.52,219.56 L630.05,220.18 L630.58,220.80 L631.10,221.43 L631.62,222.06 L632.13,222.70 L632.63,223.34 L633.13,223.98 L633.63,224.63 L634.12,225.29 L634.60,225.95 L635.08,226.61 L635.56,227.27 L636.04,227.93 L636.51,228.60 L636.97,229.27 L637.43,229.95 L637.89,230.63 L638.33,231.32 L638.78,232.01 L639.21,232.70 L639.64,233.40 L640.07,234.10 L640.48,234.80 L640.90,235.51 L641.30,236.22 L641.69,236.94 L642.08,237.66 L642.45,238.39 L642.82,239.12 L643.19,239.86 L643.55,240.59 L643.90,241.34 L644.25,242.08 L644.58,242.83 L644.92,243.58 L645.20,244.35 L645.48,245.12 L645.75,245.89 L646.01,246.67 L646.27,247.45 L646.52,248.23 L646.76,249.01 L646.99,249.79 L647.22,250.58 L647.44,251.37 L647.65,252.16 L647.85,252.95 L648.04,253.75 L648.23,254.54 L648.41,255.34" fill="none" stroke="#000" stroke-width="1.3" stroke-linejoin="round"/>
<path d="M558.40,184.00 A96.30,96.30 0 0 1 654.70,280.30" fill="none" stroke="#A8A8A8" stroke-width="0.9"/>
<line x1="558.40" y1="280.30" x2="558.40" y2="184.00" stroke="#C4C4C4" stroke-width="0.8"/>
<line x1="558.40" y1="280.30" x2="654.70" y2="280.30" stroke="#BDBDBD" stroke-width="0.8"/>
<line x1="563.22" y1="280.30" x2="563.22" y2="278.70" stroke="#A0A0A0" stroke-width="0.6"/>
<line x1="568.03" y1="280.30" x2="568.03" y2="278.70" stroke="#A0A0A0" stroke-width="0.6"/>
<line x1="572.85" y1="280.30" x2="572.85" y2="278.70" stroke="#A0A0A0" stroke-width="0.6"/>
<line x1="577.66" y1="280.30" x2="577.66" y2="278.70" stroke="#A0A0A0" stroke-width="0.6"/>
<line x1="582.48" y1="280.30" x2="582.48" y2="278.70" stroke="#A0A0A0" stroke-width="0.6"/>
<line x1="587.29" y1="280.30" x2="587.29" y2="278.70" stroke="#A0A0A0" stroke-width="0.6"/>
<line x1="592.11" y1="280.30" x2="592.11" y2="278.70" stroke="#A0A0A0" stroke-width="0.6"/>
<line x1="596.92" y1="280.30" x2="596.92" y2="278.70" stroke="#A0A0A0" stroke-width="0.6"/>
<line x1="601.74" y1="280.30" x2="601.74" y2="278.70" stroke="#A0A0A0" stroke-width="0.6"/>
<line x1="606.55" y1="280.30" x2="606.55" y2="278.70" stroke="#A0A0A0" stroke-width="0.6"/>
<line x1="611.37" y1="280.30" x2="611.37" y2="278.70" stroke="#A0A0A0" stroke-width="0.6"/>
<line x1="616.18" y1="280.30" x2="616.18" y2="278.70" stroke="#A0A0A0" stroke-width="0.6"/>
<line x1="621.00" y1="280.30" x2="621.00" y2="278.70" stroke="#A0A0A0" stroke-width="0.6"/>
<line x1="625.81" y1="280.30" x2="625.81" y2="278.70" stroke="#A0A0A0" stroke-width="0.6"/>
<line x1="630.62" y1="280.30" x2="630.62" y2="278.70" stroke="#A0A0A0" stroke-width="0.6"/>
<line x1="635.44" y1="280.30" x2="635.44" y2="278.70" stroke="#A0A0A0" stroke-width="0.6"/>
<line x1="640.25" y1="280.30" x2="640.25" y2="278.70" stroke="#A0A0A0" stroke-width="0.6"/>
<line x1="645.07" y1="280.30" x2="645.07" y2="278.70" stroke="#A0A0A0" stroke-width="0.6"/>
<line x1="649.88" y1="280.30" x2="649.88" y2="278.70" stroke="#A0A0A0" stroke-width="0.6"/>
<line x1="563.44" y1="184.13" x2="563.36" y2="185.73" stroke="#A0A0A0" stroke-width="0.6"/>
<line x1="568.47" y1="184.53" x2="568.30" y2="186.12" stroke="#A0A0A0" stroke-width="0.6"/>
<line x1="573.46" y1="185.19" x2="573.21" y2="186.77" stroke="#A0A0A0" stroke-width="0.6"/>
<line x1="578.42" y1="186.10" x2="578.09" y2="187.67" stroke="#A0A0A0" stroke-width="0.6"/>
<line x1="583.32" y1="187.28" x2="582.91" y2="188.83" stroke="#A0A0A0" stroke-width="0.6"/>
<line x1="588.16" y1="188.71" x2="587.66" y2="190.23" stroke="#A0A0A0" stroke-width="0.6"/>
<line x1="592.91" y1="190.40" x2="592.34" y2="191.89" stroke="#A0A0A0" stroke-width="0.6"/>
<line x1="597.57" y1="192.33" x2="596.92" y2="193.79" stroke="#A0A0A0" stroke-width="0.6"/>
<line x1="602.12" y1="194.50" x2="601.39" y2="195.92" stroke="#A0A0A0" stroke-width="0.6"/>
<line x1="606.55" y1="196.90" x2="605.75" y2="198.29" stroke="#A0A0A0" stroke-width="0.6"/>
<line x1="610.85" y1="199.54" x2="609.98" y2="200.88" stroke="#A0A0A0" stroke-width="0.6"/>
<line x1="615.00" y1="202.39" x2="614.06" y2="203.69" stroke="#A0A0A0" stroke-width="0.6"/>
<line x1="619.00" y1="205.46" x2="618.00" y2="206.70" stroke="#A0A0A0" stroke-width="0.6"/>
<line x1="622.84" y1="208.74" x2="621.77" y2="209.92" stroke="#A0A0A0" stroke-width="0.6"/>
<line x1="626.49" y1="212.21" x2="625.36" y2="213.34" stroke="#A0A0A0" stroke-width="0.6"/>
<line x1="629.96" y1="215.86" x2="628.78" y2="216.93" stroke="#A0A0A0" stroke-width="0.6"/>
<line x1="633.24" y1="219.70" x2="632.00" y2="220.70" stroke="#A0A0A0" stroke-width="0.6"/>
<line x1="636.31" y1="223.70" x2="635.01" y2="224.64" stroke="#A0A0A0" stroke-width="0.6"/>
<line x1="639.16" y1="227.85" x2="637.82" y2="228.72" stroke="#A0A0A0" stroke-width="0.6"/>
<line x1="641.80" y1="232.15" x2="640.41" y2="232.95" stroke="#A0A0A0" stroke-width="0.6"/>
<line x1="644.20" y1="236.58" x2="642.78" y2="237.31" stroke="#A0A0A0" stroke-width="0.6"/>
<line x1="646.37" y1="241.13" x2="644.91" y2="241.78" stroke="#A0A0A0" stroke-width="0.6"/>
<line x1="648.30" y1="245.79" x2="646.81" y2="246.36" stroke="#A0A0A0" stroke-width="0.6"/>
<line x1="649.99" y1="250.54" x2="648.47" y2="251.04" stroke="#A0A0A0" stroke-width="0.6"/>
<line x1="651.42" y1="255.38" x2="649.87" y2="255.79" stroke="#A0A0A0" stroke-width="0.6"/>
<line x1="652.60" y1="260.28" x2="651.03" y2="260.61" stroke="#A0A0A0" stroke-width="0.6"/>
<line x1="653.51" y1="265.24" x2="651.93" y2="265.49" stroke="#A0A0A0" stroke-width="0.6"/>
<line x1="654.17" y1="270.23" x2="652.58" y2="270.40" stroke="#A0A0A0" stroke-width="0.6"/>
<line x1="654.57" y1="275.26" x2="652.97" y2="275.34" stroke="#A0A0A0" stroke-width="0.6"/>
<text x="558.5" y="180.1" font-size="10.0" fill="#262626" text-anchor="middle">0</text>
<text x="576.0" y="181.2" font-size="10.0" fill="#262626" text-anchor="middle">10</text>
<text x="597.8" y="185.8" font-size="10.0" fill="#262626" text-anchor="middle">20</text>
<text x="613.2" y="192.8" font-size="10.0" fill="#262626" text-anchor="middle">30</text>
<text x="627.6" y="202.9" font-size="10.0" fill="#262626" text-anchor="middle">40</text>
<text x="640.1" y="215.3" font-size="10.0" fill="#262626" text-anchor="middle">50</text>
<text x="649.7" y="229.3" font-size="10.0" fill="#262626" text-anchor="middle">60</text>
<text x="657.6" y="250.8" font-size="10.0" fill="#262626" text-anchor="middle">70</text>
<text x="661.0" y="267.9" font-size="10.0" fill="#262626" text-anchor="middle">80</text>
<text x="663.0" y="284.6" font-size="10.0" fill="#262626" text-anchor="middle">90</text>
<text transform="translate(649.9,210.7) rotate(52)" font-size="11" fill="#262626" text-anchor="middle">AOI</text>
<text transform="translate(555.5,261.0) rotate(-90)" font-size="10.0" fill="#262626" text-anchor="middle">0.2</text>
<text transform="translate(555.5,241.8) rotate(-90)" font-size="10.0" fill="#262626" text-anchor="middle">0.4</text>
<text transform="translate(555.5,222.5) rotate(-90)" font-size="10.0" fill="#262626" text-anchor="middle">0.6</text>
<text transform="translate(555.5,203.3) rotate(-90)" font-size="10.0" fill="#262626" text-anchor="middle">0.8</text>
<text transform="translate(555.5,184.0) rotate(-90)" font-size="10.0" fill="#262626" text-anchor="middle">1</text>
<text x="552.2" y="286.5" font-size="10.0" fill="#262626" text-anchor="middle">0</text>
<text x="577.7" y="293.1" font-size="10.0" fill="#262626" text-anchor="middle">0.2</text>
<text x="596.9" y="293.1" font-size="10.0" fill="#262626" text-anchor="middle">0.4</text>
<text x="616.2" y="293.1" font-size="10.0" fill="#262626" text-anchor="middle">0.6</text>
<text x="635.4" y="293.1" font-size="10.0" fill="#262626" text-anchor="middle">0.8</text>
<text x="654.7" y="293.1" font-size="10.0" fill="#262626" text-anchor="middle">1</text>
<text transform="translate(544.3,230.5) rotate(-90)" font-size="13" font-style="italic" fill="#000" text-anchor="middle">ϵ<tspan dy="2.4" font-size="9.5">IR</tspan><tspan dy="-2.4">(θ)</tspan></text>
</svg></body></html>
